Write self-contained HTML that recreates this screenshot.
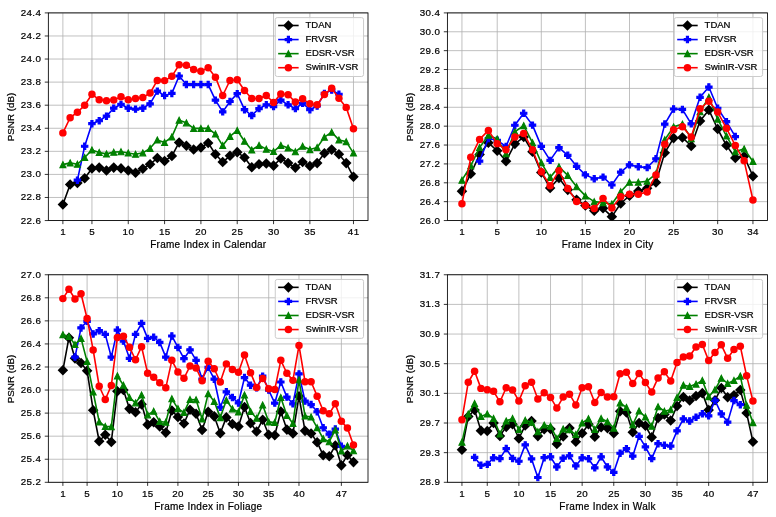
<!DOCTYPE html>
<html><head><meta charset="utf-8"><title>PSNR per frame</title>
<style>
html,body{margin:0;padding:0;background:#fff;}
body{width:776px;height:517px;position:relative;overflow:hidden;font-family:"Liberation Sans",sans-serif;color:#000;}
svg{position:absolute;left:0;top:0;}
section{position:absolute;left:0;top:0;width:776px;height:517px;filter:grayscale(1);}
div{position:absolute;white-space:nowrap;font-size:9.6px;line-height:14px;height:14px;-webkit-text-stroke:0.22px #000;}
.lg{text-align:left;font-size:9.5px;}
.xt{width:40px;text-align:center;font-size:9.8px;letter-spacing:0.35px;text-indent:0.35px;}
.yt{width:40px;text-align:right;font-size:9.8px;letter-spacing:0.35px;margin-left:0.35px;}
.xl{width:200px;text-align:center;font-size:10px;letter-spacing:0.27px;text-indent:0.27px;}
.yl{width:100px;text-align:center;font-size:9.8px;transform:rotate(-90deg);transform-origin:50% 50%;}
</style></head><body>
<svg width="776" height="517" viewBox="0 0 776 517">
<path d="M62.88 12.9V220.55M91.94 12.9V220.55M128.26 12.9V220.55M164.59 12.9V220.55M200.91 12.9V220.55M237.23 12.9V220.55M273.56 12.9V220.55M309.88 12.9V220.55M353.47 12.9V220.55M48.35 220.55H368M48.35 197.48H368M48.35 174.41H368M48.35 151.33H368M48.35 128.26H368M48.35 105.19H368M48.35 82.12H368M48.35 59.04H368M48.35 35.97H368M48.35 12.9H368" stroke="#b0b0b0" stroke-width="0.8" fill="none"/>
<clipPath id="c48_12"><rect x="48.35" y="12.9" width="319.65" height="207.65"/></clipPath>
<g clip-path="url(#c48_12)">
<path d="M62.88 204.51L70.14 184.44L77.41 183.06L84.67 178.21L91.94 168.41L99.2 167.6L106.47 170.48L113.73 167.6L121 168.41L128.26 170.48L135.53 172.68L142.79 168.75L150.06 164.25L157.32 158.02L164.59 160.91L171.85 156.06L179.12 142.45L186.38 145.8L193.65 149.49L200.91 147.53L208.17 142.91L215.44 154.22L222.7 162.06L229.97 155.83L237.23 152.14L244.5 157.56L251.76 167.25L259.03 164.25L266.29 163.45L273.56 165.64L280.82 158.49L288.09 163.1L295.35 167.6L302.62 162.06L309.88 165.98L317.15 163.1L324.41 153.29L331.68 149.6L338.94 154.22L346.21 163.1L353.47 176.83" stroke="#000000" stroke-width="1.6" fill="none" stroke-linejoin="round"/>
<path d="M62.88 199.23L68.16 204.51L62.88 209.8L57.6 204.51Z" fill="#000000"/><path d="M70.14 179.16L75.43 184.44L70.14 189.72L64.86 184.44Z" fill="#000000"/><path d="M77.41 177.78L82.69 183.06L77.41 188.34L72.13 183.06Z" fill="#000000"/><path d="M84.67 172.93L89.96 178.21L84.67 183.49L79.39 178.21Z" fill="#000000"/><path d="M91.94 163.12L97.22 168.41L91.94 173.69L86.66 168.41Z" fill="#000000"/><path d="M99.2 162.32L104.49 167.6L99.2 172.88L93.92 167.6Z" fill="#000000"/><path d="M106.47 165.2L111.75 170.48L106.47 175.77L101.19 170.48Z" fill="#000000"/><path d="M113.73 162.32L119.01 167.6L113.73 172.88L108.45 167.6Z" fill="#000000"/><path d="M121 163.12L126.28 168.41L121 173.69L115.72 168.41Z" fill="#000000"/><path d="M128.26 165.2L133.54 170.48L128.26 175.77L122.98 170.48Z" fill="#000000"/><path d="M135.53 167.39L140.81 172.68L135.53 177.96L130.25 172.68Z" fill="#000000"/><path d="M142.79 163.47L148.07 168.75L142.79 174.03L137.51 168.75Z" fill="#000000"/><path d="M150.06 158.97L155.34 164.25L150.06 169.54L144.77 164.25Z" fill="#000000"/><path d="M157.32 152.74L162.6 158.02L157.32 163.31L152.04 158.02Z" fill="#000000"/><path d="M164.59 155.63L169.87 160.91L164.59 166.19L159.3 160.91Z" fill="#000000"/><path d="M171.85 150.78L177.13 156.06L171.85 161.35L166.57 156.06Z" fill="#000000"/><path d="M179.12 137.17L184.4 142.45L179.12 147.73L173.83 142.45Z" fill="#000000"/><path d="M186.38 140.51L191.66 145.8L186.38 151.08L181.1 145.8Z" fill="#000000"/><path d="M193.65 144.21L198.93 149.49L193.65 154.77L188.36 149.49Z" fill="#000000"/><path d="M200.91 142.24L206.19 147.53L200.91 152.81L195.63 147.53Z" fill="#000000"/><path d="M208.17 137.63L213.46 142.91L208.17 148.19L202.89 142.91Z" fill="#000000"/><path d="M215.44 148.94L220.72 154.22L215.44 159.5L210.16 154.22Z" fill="#000000"/><path d="M222.7 156.78L227.99 162.06L222.7 167.34L217.42 162.06Z" fill="#000000"/><path d="M229.97 150.55L235.25 155.83L229.97 161.11L224.69 155.83Z" fill="#000000"/><path d="M237.23 146.86L242.52 152.14L237.23 157.42L231.95 152.14Z" fill="#000000"/><path d="M244.5 152.28L249.78 157.56L244.5 162.84L239.22 157.56Z" fill="#000000"/><path d="M251.76 161.97L257.05 167.25L251.76 172.54L246.48 167.25Z" fill="#000000"/><path d="M259.03 158.97L264.31 164.25L259.03 169.54L253.75 164.25Z" fill="#000000"/><path d="M266.29 158.16L271.58 163.45L266.29 168.73L261.01 163.45Z" fill="#000000"/><path d="M273.56 160.36L278.84 165.64L273.56 170.92L268.28 165.64Z" fill="#000000"/><path d="M280.82 153.2L286.1 158.49L280.82 163.77L275.54 158.49Z" fill="#000000"/><path d="M288.09 157.82L293.37 163.1L288.09 168.38L282.81 163.1Z" fill="#000000"/><path d="M295.35 162.32L300.63 167.6L295.35 172.88L290.07 167.6Z" fill="#000000"/><path d="M302.62 156.78L307.9 162.06L302.62 167.34L297.34 162.06Z" fill="#000000"/><path d="M309.88 160.7L315.16 165.98L309.88 171.27L304.6 165.98Z" fill="#000000"/><path d="M317.15 157.82L322.43 163.1L317.15 168.38L311.86 163.1Z" fill="#000000"/><path d="M324.41 148.01L329.69 153.29L324.41 158.58L319.13 153.29Z" fill="#000000"/><path d="M331.68 144.32L336.96 149.6L331.68 154.88L326.39 149.6Z" fill="#000000"/><path d="M338.94 148.94L344.22 154.22L338.94 159.5L333.66 154.22Z" fill="#000000"/><path d="M346.21 157.82L351.49 163.1L346.21 168.38L340.92 163.1Z" fill="#000000"/><path d="M353.47 171.55L358.75 176.83L353.47 182.11L348.19 176.83Z" fill="#000000"/>
<path d="M77.41 180.17L84.67 146.26L91.94 123.65L99.2 120.76L106.47 116.15L113.73 108.19L121 104.38L128.26 108.19L135.53 109.11L142.79 108.19L150.06 103.8L157.32 91.11L164.59 95.5L171.85 93.42L179.12 76L186.38 84.54L193.65 84.54L200.91 84.54L208.17 84.54L215.44 100.11L222.7 111.88L229.97 101.5L237.23 93.65L244.5 109.69L251.76 115.57L259.03 108.53L266.29 104.84L273.56 106.57L280.82 100.11L288.09 104.84L295.35 108.53L302.62 103.23L309.88 109.69L317.15 106L324.41 93.42L331.68 90.08L338.94 94.23" stroke="#0000ff" stroke-width="1.6" fill="none" stroke-linejoin="round"/>
<path d="M76.34 176.97L78.48 176.97L78.48 179.11L80.61 179.11L80.61 181.24L78.48 181.24L78.48 183.37L76.34 183.37L76.34 181.24L74.21 181.24L74.21 179.11L76.34 179.11Z" fill="#0000ff" stroke="#0000ff" stroke-width="1.07" stroke-linejoin="miter"/><path d="M83.61 143.06L85.74 143.06L85.74 145.19L87.87 145.19L87.87 147.32L85.74 147.32L85.74 149.46L83.61 149.46L83.61 147.32L81.47 147.32L81.47 145.19L83.61 145.19Z" fill="#0000ff" stroke="#0000ff" stroke-width="1.07" stroke-linejoin="miter"/><path d="M90.87 120.45L93.01 120.45L93.01 122.58L95.14 122.58L95.14 124.71L93.01 124.71L93.01 126.85L90.87 126.85L90.87 124.71L88.74 124.71L88.74 122.58L90.87 122.58Z" fill="#0000ff" stroke="#0000ff" stroke-width="1.07" stroke-linejoin="miter"/><path d="M98.14 117.56L100.27 117.56L100.27 119.7L102.4 119.7L102.4 121.83L100.27 121.83L100.27 123.96L98.14 123.96L98.14 121.83L96 121.83L96 119.7L98.14 119.7Z" fill="#0000ff" stroke="#0000ff" stroke-width="1.07" stroke-linejoin="miter"/><path d="M105.4 112.95L107.53 112.95L107.53 115.08L109.67 115.08L109.67 117.21L107.53 117.21L107.53 119.35L105.4 119.35L105.4 117.21L103.27 117.21L103.27 115.08L105.4 115.08Z" fill="#0000ff" stroke="#0000ff" stroke-width="1.07" stroke-linejoin="miter"/><path d="M112.67 104.99L114.8 104.99L114.8 107.12L116.93 107.12L116.93 109.25L114.8 109.25L114.8 111.39L112.67 111.39L112.67 109.25L110.53 109.25L110.53 107.12L112.67 107.12Z" fill="#0000ff" stroke="#0000ff" stroke-width="1.07" stroke-linejoin="miter"/><path d="M119.93 101.18L122.06 101.18L122.06 103.31L124.2 103.31L124.2 105.45L122.06 105.45L122.06 107.58L119.93 107.58L119.93 105.45L117.8 105.45L117.8 103.31L119.93 103.31Z" fill="#0000ff" stroke="#0000ff" stroke-width="1.07" stroke-linejoin="miter"/><path d="M127.2 104.99L129.33 104.99L129.33 107.12L131.46 107.12L131.46 109.25L129.33 109.25L129.33 111.39L127.2 111.39L127.2 109.25L125.06 109.25L125.06 107.12L127.2 107.12Z" fill="#0000ff" stroke="#0000ff" stroke-width="1.07" stroke-linejoin="miter"/><path d="M134.46 105.91L136.59 105.91L136.59 108.04L138.73 108.04L138.73 110.18L136.59 110.18L136.59 112.31L134.46 112.31L134.46 110.18L132.33 110.18L132.33 108.04L134.46 108.04Z" fill="#0000ff" stroke="#0000ff" stroke-width="1.07" stroke-linejoin="miter"/><path d="M141.73 104.99L143.86 104.99L143.86 107.12L145.99 107.12L145.99 109.25L143.86 109.25L143.86 111.39L141.73 111.39L141.73 109.25L139.59 109.25L139.59 107.12L141.73 107.12Z" fill="#0000ff" stroke="#0000ff" stroke-width="1.07" stroke-linejoin="miter"/><path d="M148.99 100.6L151.12 100.6L151.12 102.74L153.26 102.74L153.26 104.87L151.12 104.87L151.12 107L148.99 107L148.99 104.87L146.86 104.87L146.86 102.74L148.99 102.74Z" fill="#0000ff" stroke="#0000ff" stroke-width="1.07" stroke-linejoin="miter"/><path d="M156.25 87.91L158.39 87.91L158.39 90.05L160.52 90.05L160.52 92.18L158.39 92.18L158.39 94.31L156.25 94.31L156.25 92.18L154.12 92.18L154.12 90.05L156.25 90.05Z" fill="#0000ff" stroke="#0000ff" stroke-width="1.07" stroke-linejoin="miter"/><path d="M163.52 92.3L165.65 92.3L165.65 94.43L167.79 94.43L167.79 96.57L165.65 96.57L165.65 98.7L163.52 98.7L163.52 96.57L161.39 96.57L161.39 94.43L163.52 94.43Z" fill="#0000ff" stroke="#0000ff" stroke-width="1.07" stroke-linejoin="miter"/><path d="M170.78 90.22L172.92 90.22L172.92 92.36L175.05 92.36L175.05 94.49L172.92 94.49L172.92 96.62L170.78 96.62L170.78 94.49L168.65 94.49L168.65 92.36L170.78 92.36Z" fill="#0000ff" stroke="#0000ff" stroke-width="1.07" stroke-linejoin="miter"/><path d="M178.05 72.8L180.18 72.8L180.18 74.94L182.32 74.94L182.32 77.07L180.18 77.07L180.18 79.2L178.05 79.2L178.05 77.07L175.92 77.07L175.92 74.94L178.05 74.94Z" fill="#0000ff" stroke="#0000ff" stroke-width="1.07" stroke-linejoin="miter"/><path d="M185.31 81.34L187.45 81.34L187.45 83.47L189.58 83.47L189.58 85.61L187.45 85.61L187.45 87.74L185.31 87.74L185.31 85.61L183.18 85.61L183.18 83.47L185.31 83.47Z" fill="#0000ff" stroke="#0000ff" stroke-width="1.07" stroke-linejoin="miter"/><path d="M192.58 81.34L194.71 81.34L194.71 83.47L196.85 83.47L196.85 85.61L194.71 85.61L194.71 87.74L192.58 87.74L192.58 85.61L190.45 85.61L190.45 83.47L192.58 83.47Z" fill="#0000ff" stroke="#0000ff" stroke-width="1.07" stroke-linejoin="miter"/><path d="M199.84 81.34L201.98 81.34L201.98 83.47L204.11 83.47L204.11 85.61L201.98 85.61L201.98 87.74L199.84 87.74L199.84 85.61L197.71 85.61L197.71 83.47L199.84 83.47Z" fill="#0000ff" stroke="#0000ff" stroke-width="1.07" stroke-linejoin="miter"/><path d="M207.11 81.34L209.24 81.34L209.24 83.47L211.37 83.47L211.37 85.61L209.24 85.61L209.24 87.74L207.11 87.74L207.11 85.61L204.97 85.61L204.97 83.47L207.11 83.47Z" fill="#0000ff" stroke="#0000ff" stroke-width="1.07" stroke-linejoin="miter"/><path d="M214.37 96.91L216.51 96.91L216.51 99.05L218.64 99.05L218.64 101.18L216.51 101.18L216.51 103.31L214.37 103.31L214.37 101.18L212.24 101.18L212.24 99.05L214.37 99.05Z" fill="#0000ff" stroke="#0000ff" stroke-width="1.07" stroke-linejoin="miter"/><path d="M221.64 108.68L223.77 108.68L223.77 110.81L225.9 110.81L225.9 112.95L223.77 112.95L223.77 115.08L221.64 115.08L221.64 112.95L219.5 112.95L219.5 110.81L221.64 110.81Z" fill="#0000ff" stroke="#0000ff" stroke-width="1.07" stroke-linejoin="miter"/><path d="M228.9 98.3L231.04 98.3L231.04 100.43L233.17 100.43L233.17 102.56L231.04 102.56L231.04 104.7L228.9 104.7L228.9 102.56L226.77 102.56L226.77 100.43L228.9 100.43Z" fill="#0000ff" stroke="#0000ff" stroke-width="1.07" stroke-linejoin="miter"/><path d="M236.17 90.45L238.3 90.45L238.3 92.59L240.43 92.59L240.43 94.72L238.3 94.72L238.3 96.85L236.17 96.85L236.17 94.72L234.03 94.72L234.03 92.59L236.17 92.59Z" fill="#0000ff" stroke="#0000ff" stroke-width="1.07" stroke-linejoin="miter"/><path d="M243.43 106.49L245.57 106.49L245.57 108.62L247.7 108.62L247.7 110.75L245.57 110.75L245.57 112.89L243.43 112.89L243.43 110.75L241.3 110.75L241.3 108.62L243.43 108.62Z" fill="#0000ff" stroke="#0000ff" stroke-width="1.07" stroke-linejoin="miter"/><path d="M250.7 112.37L252.83 112.37L252.83 114.5L254.96 114.5L254.96 116.64L252.83 116.64L252.83 118.77L250.7 118.77L250.7 116.64L248.56 116.64L248.56 114.5L250.7 114.5Z" fill="#0000ff" stroke="#0000ff" stroke-width="1.07" stroke-linejoin="miter"/><path d="M257.96 105.33L260.1 105.33L260.1 107.47L262.23 107.47L262.23 109.6L260.1 109.6L260.1 111.73L257.96 111.73L257.96 109.6L255.83 109.6L255.83 107.47L257.96 107.47Z" fill="#0000ff" stroke="#0000ff" stroke-width="1.07" stroke-linejoin="miter"/><path d="M265.23 101.64L267.36 101.64L267.36 103.78L269.49 103.78L269.49 105.91L267.36 105.91L267.36 108.04L265.23 108.04L265.23 105.91L263.09 105.91L263.09 103.78L265.23 103.78Z" fill="#0000ff" stroke="#0000ff" stroke-width="1.07" stroke-linejoin="miter"/><path d="M272.49 103.37L274.62 103.37L274.62 105.51L276.76 105.51L276.76 107.64L274.62 107.64L274.62 109.77L272.49 109.77L272.49 107.64L270.36 107.64L270.36 105.51L272.49 105.51Z" fill="#0000ff" stroke="#0000ff" stroke-width="1.07" stroke-linejoin="miter"/><path d="M279.76 96.91L281.89 96.91L281.89 99.05L284.02 99.05L284.02 101.18L281.89 101.18L281.89 103.31L279.76 103.31L279.76 101.18L277.62 101.18L277.62 99.05L279.76 99.05Z" fill="#0000ff" stroke="#0000ff" stroke-width="1.07" stroke-linejoin="miter"/><path d="M287.02 101.64L289.15 101.64L289.15 103.78L291.29 103.78L291.29 105.91L289.15 105.91L289.15 108.04L287.02 108.04L287.02 105.91L284.89 105.91L284.89 103.78L287.02 103.78Z" fill="#0000ff" stroke="#0000ff" stroke-width="1.07" stroke-linejoin="miter"/><path d="M294.29 105.33L296.42 105.33L296.42 107.47L298.55 107.47L298.55 109.6L296.42 109.6L296.42 111.73L294.29 111.73L294.29 109.6L292.15 109.6L292.15 107.47L294.29 107.47Z" fill="#0000ff" stroke="#0000ff" stroke-width="1.07" stroke-linejoin="miter"/><path d="M301.55 100.03L303.68 100.03L303.68 102.16L305.82 102.16L305.82 104.29L303.68 104.29L303.68 106.43L301.55 106.43L301.55 104.29L299.42 104.29L299.42 102.16L301.55 102.16Z" fill="#0000ff" stroke="#0000ff" stroke-width="1.07" stroke-linejoin="miter"/><path d="M308.82 106.49L310.95 106.49L310.95 108.62L313.08 108.62L313.08 110.75L310.95 110.75L310.95 112.89L308.82 112.89L308.82 110.75L306.68 110.75L306.68 108.62L308.82 108.62Z" fill="#0000ff" stroke="#0000ff" stroke-width="1.07" stroke-linejoin="miter"/><path d="M316.08 102.8L318.21 102.8L318.21 104.93L320.35 104.93L320.35 107.06L318.21 107.06L318.21 109.2L316.08 109.2L316.08 107.06L313.95 107.06L313.95 104.93L316.08 104.93Z" fill="#0000ff" stroke="#0000ff" stroke-width="1.07" stroke-linejoin="miter"/><path d="M323.34 90.22L325.48 90.22L325.48 92.36L327.61 92.36L327.61 94.49L325.48 94.49L325.48 96.62L323.34 96.62L323.34 94.49L321.21 94.49L321.21 92.36L323.34 92.36Z" fill="#0000ff" stroke="#0000ff" stroke-width="1.07" stroke-linejoin="miter"/><path d="M330.61 86.88L332.74 86.88L332.74 89.01L334.88 89.01L334.88 91.14L332.74 91.14L332.74 93.28L330.61 93.28L330.61 91.14L328.48 91.14L328.48 89.01L330.61 89.01Z" fill="#0000ff" stroke="#0000ff" stroke-width="1.07" stroke-linejoin="miter"/><path d="M337.87 91.03L340.01 91.03L340.01 93.16L342.14 93.16L342.14 95.3L340.01 95.3L340.01 97.43L337.87 97.43L337.87 95.3L335.74 95.3L335.74 93.16L337.87 93.16Z" fill="#0000ff" stroke="#0000ff" stroke-width="1.07" stroke-linejoin="miter"/>
<path d="M62.88 164.6L70.14 162.87L77.41 164.25L84.67 157.56L91.94 149.95L99.2 152.49L106.47 153.87L113.73 152.14L121 151.68L128.26 153.06L135.53 154.22L142.79 152.83L150.06 148.33L157.32 139.91L164.59 142.45L171.85 136.91L179.12 120.3L186.38 122.84L193.65 128.38L200.91 128.38L208.17 128.38L215.44 134.03L222.7 145.57L229.97 136.34L237.23 130.45L244.5 141.3L251.76 149.95L259.03 145.33L266.29 149.14L273.56 151.56L280.82 145.33L288.09 147.99L295.35 151.68L302.62 146.26L309.88 149.6L317.15 147.53L324.41 137.14L331.68 132.18L338.94 139.91L346.21 141.64L353.47 153.06" stroke="#008000" stroke-width="1.6" fill="none" stroke-linejoin="round"/>
<path d="M62.88 161.59L65.89 167.61L59.87 167.61Z" fill="#008000" stroke="#008000" stroke-width="1.07" stroke-linejoin="miter"/><path d="M70.14 159.86L73.15 165.88L67.14 165.88Z" fill="#008000" stroke="#008000" stroke-width="1.07" stroke-linejoin="miter"/><path d="M77.41 161.25L80.42 167.26L74.4 167.26Z" fill="#008000" stroke="#008000" stroke-width="1.07" stroke-linejoin="miter"/><path d="M84.67 154.55L87.68 160.57L81.67 160.57Z" fill="#008000" stroke="#008000" stroke-width="1.07" stroke-linejoin="miter"/><path d="M91.94 146.94L94.95 152.96L88.93 152.96Z" fill="#008000" stroke="#008000" stroke-width="1.07" stroke-linejoin="miter"/><path d="M99.2 149.48L102.21 155.49L96.2 155.49Z" fill="#008000" stroke="#008000" stroke-width="1.07" stroke-linejoin="miter"/><path d="M106.47 150.86L109.48 156.88L103.46 156.88Z" fill="#008000" stroke="#008000" stroke-width="1.07" stroke-linejoin="miter"/><path d="M113.73 149.13L116.74 155.15L110.72 155.15Z" fill="#008000" stroke="#008000" stroke-width="1.07" stroke-linejoin="miter"/><path d="M121 148.67L124.01 154.69L117.99 154.69Z" fill="#008000" stroke="#008000" stroke-width="1.07" stroke-linejoin="miter"/><path d="M128.26 150.06L131.27 156.07L125.25 156.07Z" fill="#008000" stroke="#008000" stroke-width="1.07" stroke-linejoin="miter"/><path d="M135.53 151.21L138.54 157.23L132.52 157.23Z" fill="#008000" stroke="#008000" stroke-width="1.07" stroke-linejoin="miter"/><path d="M142.79 149.83L145.8 155.84L139.78 155.84Z" fill="#008000" stroke="#008000" stroke-width="1.07" stroke-linejoin="miter"/><path d="M150.06 145.33L153.06 151.34L147.05 151.34Z" fill="#008000" stroke="#008000" stroke-width="1.07" stroke-linejoin="miter"/><path d="M157.32 136.9L160.33 142.92L154.31 142.92Z" fill="#008000" stroke="#008000" stroke-width="1.07" stroke-linejoin="miter"/><path d="M164.59 139.44L167.59 145.46L161.58 145.46Z" fill="#008000" stroke="#008000" stroke-width="1.07" stroke-linejoin="miter"/><path d="M171.85 133.91L174.86 139.92L168.84 139.92Z" fill="#008000" stroke="#008000" stroke-width="1.07" stroke-linejoin="miter"/><path d="M179.12 117.29L182.12 123.31L176.11 123.31Z" fill="#008000" stroke="#008000" stroke-width="1.07" stroke-linejoin="miter"/><path d="M186.38 119.83L189.39 125.85L183.37 125.85Z" fill="#008000" stroke="#008000" stroke-width="1.07" stroke-linejoin="miter"/><path d="M193.65 125.37L196.65 131.38L190.64 131.38Z" fill="#008000" stroke="#008000" stroke-width="1.07" stroke-linejoin="miter"/><path d="M200.91 125.37L203.92 131.38L197.9 131.38Z" fill="#008000" stroke="#008000" stroke-width="1.07" stroke-linejoin="miter"/><path d="M208.17 125.37L211.18 131.38L205.17 131.38Z" fill="#008000" stroke="#008000" stroke-width="1.07" stroke-linejoin="miter"/><path d="M215.44 131.02L218.45 137.04L212.43 137.04Z" fill="#008000" stroke="#008000" stroke-width="1.07" stroke-linejoin="miter"/><path d="M222.7 142.56L225.71 148.57L219.7 148.57Z" fill="#008000" stroke="#008000" stroke-width="1.07" stroke-linejoin="miter"/><path d="M229.97 133.33L232.98 139.34L226.96 139.34Z" fill="#008000" stroke="#008000" stroke-width="1.07" stroke-linejoin="miter"/><path d="M237.23 127.44L240.24 133.46L234.23 133.46Z" fill="#008000" stroke="#008000" stroke-width="1.07" stroke-linejoin="miter"/><path d="M244.5 138.29L247.51 144.3L241.49 144.3Z" fill="#008000" stroke="#008000" stroke-width="1.07" stroke-linejoin="miter"/><path d="M251.76 146.94L254.77 152.96L248.76 152.96Z" fill="#008000" stroke="#008000" stroke-width="1.07" stroke-linejoin="miter"/><path d="M259.03 142.33L262.04 148.34L256.02 148.34Z" fill="#008000" stroke="#008000" stroke-width="1.07" stroke-linejoin="miter"/><path d="M266.29 146.13L269.3 152.15L263.29 152.15Z" fill="#008000" stroke="#008000" stroke-width="1.07" stroke-linejoin="miter"/><path d="M273.56 148.56L276.57 154.57L270.55 154.57Z" fill="#008000" stroke="#008000" stroke-width="1.07" stroke-linejoin="miter"/><path d="M280.82 142.33L283.83 148.34L277.81 148.34Z" fill="#008000" stroke="#008000" stroke-width="1.07" stroke-linejoin="miter"/><path d="M288.09 144.98L291.1 151L285.08 151Z" fill="#008000" stroke="#008000" stroke-width="1.07" stroke-linejoin="miter"/><path d="M295.35 148.67L298.36 154.69L292.34 154.69Z" fill="#008000" stroke="#008000" stroke-width="1.07" stroke-linejoin="miter"/><path d="M302.62 143.25L305.63 149.27L299.61 149.27Z" fill="#008000" stroke="#008000" stroke-width="1.07" stroke-linejoin="miter"/><path d="M309.88 146.59L312.89 152.61L306.87 152.61Z" fill="#008000" stroke="#008000" stroke-width="1.07" stroke-linejoin="miter"/><path d="M317.15 144.52L320.15 150.53L314.14 150.53Z" fill="#008000" stroke="#008000" stroke-width="1.07" stroke-linejoin="miter"/><path d="M324.41 134.14L327.42 140.15L321.4 140.15Z" fill="#008000" stroke="#008000" stroke-width="1.07" stroke-linejoin="miter"/><path d="M331.68 129.18L334.68 135.19L328.67 135.19Z" fill="#008000" stroke="#008000" stroke-width="1.07" stroke-linejoin="miter"/><path d="M338.94 136.9L341.95 142.92L335.93 142.92Z" fill="#008000" stroke="#008000" stroke-width="1.07" stroke-linejoin="miter"/><path d="M346.21 138.64L349.21 144.65L343.2 144.65Z" fill="#008000" stroke="#008000" stroke-width="1.07" stroke-linejoin="miter"/><path d="M353.47 150.06L356.48 156.07L350.46 156.07Z" fill="#008000" stroke="#008000" stroke-width="1.07" stroke-linejoin="miter"/>
<path d="M62.88 132.88L70.14 117.76L77.41 112.23L84.67 105.3L91.94 94.23L99.2 99.77L106.47 100.81L113.73 100.11L121 96.77L128.26 99.77L135.53 98.61L142.79 97.46L150.06 93.08L157.32 80.39L164.59 80.62L171.85 76.35L179.12 64.81L186.38 65.27L193.65 69.43L200.91 71.16L208.17 67.7L215.44 77.16L222.7 95.5L229.97 80.5L237.23 79.69L244.5 90.54L251.76 98.5L259.03 98.5L266.29 95.5L273.56 102.54L280.82 93.88L288.09 94.69L295.35 102.07L302.62 98.84L309.88 103.8L317.15 104.73L324.41 94.58L331.68 88.35L338.94 98.15L346.21 107.38L353.47 128.72" stroke="#ff0000" stroke-width="1.6" fill="none" stroke-linejoin="round"/>
<circle cx="62.88" cy="132.88" r="3.74" fill="#ff0000"/><circle cx="70.14" cy="117.76" r="3.74" fill="#ff0000"/><circle cx="77.41" cy="112.23" r="3.74" fill="#ff0000"/><circle cx="84.67" cy="105.3" r="3.74" fill="#ff0000"/><circle cx="91.94" cy="94.23" r="3.74" fill="#ff0000"/><circle cx="99.2" cy="99.77" r="3.74" fill="#ff0000"/><circle cx="106.47" cy="100.81" r="3.74" fill="#ff0000"/><circle cx="113.73" cy="100.11" r="3.74" fill="#ff0000"/><circle cx="121" cy="96.77" r="3.74" fill="#ff0000"/><circle cx="128.26" cy="99.77" r="3.74" fill="#ff0000"/><circle cx="135.53" cy="98.61" r="3.74" fill="#ff0000"/><circle cx="142.79" cy="97.46" r="3.74" fill="#ff0000"/><circle cx="150.06" cy="93.08" r="3.74" fill="#ff0000"/><circle cx="157.32" cy="80.39" r="3.74" fill="#ff0000"/><circle cx="164.59" cy="80.62" r="3.74" fill="#ff0000"/><circle cx="171.85" cy="76.35" r="3.74" fill="#ff0000"/><circle cx="179.12" cy="64.81" r="3.74" fill="#ff0000"/><circle cx="186.38" cy="65.27" r="3.74" fill="#ff0000"/><circle cx="193.65" cy="69.43" r="3.74" fill="#ff0000"/><circle cx="200.91" cy="71.16" r="3.74" fill="#ff0000"/><circle cx="208.17" cy="67.7" r="3.74" fill="#ff0000"/><circle cx="215.44" cy="77.16" r="3.74" fill="#ff0000"/><circle cx="222.7" cy="95.5" r="3.74" fill="#ff0000"/><circle cx="229.97" cy="80.5" r="3.74" fill="#ff0000"/><circle cx="237.23" cy="79.69" r="3.74" fill="#ff0000"/><circle cx="244.5" cy="90.54" r="3.74" fill="#ff0000"/><circle cx="251.76" cy="98.5" r="3.74" fill="#ff0000"/><circle cx="259.03" cy="98.5" r="3.74" fill="#ff0000"/><circle cx="266.29" cy="95.5" r="3.74" fill="#ff0000"/><circle cx="273.56" cy="102.54" r="3.74" fill="#ff0000"/><circle cx="280.82" cy="93.88" r="3.74" fill="#ff0000"/><circle cx="288.09" cy="94.69" r="3.74" fill="#ff0000"/><circle cx="295.35" cy="102.07" r="3.74" fill="#ff0000"/><circle cx="302.62" cy="98.84" r="3.74" fill="#ff0000"/><circle cx="309.88" cy="103.8" r="3.74" fill="#ff0000"/><circle cx="317.15" cy="104.73" r="3.74" fill="#ff0000"/><circle cx="324.41" cy="94.58" r="3.74" fill="#ff0000"/><circle cx="331.68" cy="88.35" r="3.74" fill="#ff0000"/><circle cx="338.94" cy="98.15" r="3.74" fill="#ff0000"/><circle cx="346.21" cy="107.38" r="3.74" fill="#ff0000"/><circle cx="353.47" cy="128.72" r="3.74" fill="#ff0000"/>
</g>
<path d="M62.88 220.55v3.6M91.94 220.55v3.6M128.26 220.55v3.6M164.59 220.55v3.6M200.91 220.55v3.6M237.23 220.55v3.6M273.56 220.55v3.6M309.88 220.55v3.6M353.47 220.55v3.6M48.35 220.55h-3.6M48.35 197.48h-3.6M48.35 174.41h-3.6M48.35 151.33h-3.6M48.35 128.26h-3.6M48.35 105.19h-3.6M48.35 82.12h-3.6M48.35 59.04h-3.6M48.35 35.97h-3.6M48.35 12.9h-3.6" stroke="#000" stroke-width="0.8" fill="none"/>
<rect x="48.35" y="12.9" width="319.65" height="207.65" fill="none" stroke="#000" stroke-width="0.85"/>
<rect x="275.25" y="17.6" width="88.3" height="58.9" rx="2" ry="2" fill="#fff" fill-opacity="0.8" stroke="#cccccc" stroke-width="1"/>
<path d="M278.15 25.5H298.65" stroke="#000000" stroke-width="1.6"/>
<path d="M288.4 20.22L293.68 25.5L288.4 30.78L283.12 25.5Z" fill="#000000"/>
<path d="M278.15 39.57H298.65" stroke="#0000ff" stroke-width="1.6"/>
<path d="M287.33 36.37L289.47 36.37L289.47 38.5L291.6 38.5L291.6 40.64L289.47 40.64L289.47 42.77L287.33 42.77L287.33 40.64L285.2 40.64L285.2 38.5L287.33 38.5Z" fill="#0000ff" stroke="#0000ff" stroke-width="1.07" stroke-linejoin="miter"/>
<path d="M278.15 53.64H298.65" stroke="#008000" stroke-width="1.6"/>
<path d="M288.4 50.63L291.41 56.65L285.39 56.65Z" fill="#008000" stroke="#008000" stroke-width="1.07" stroke-linejoin="miter"/>
<path d="M278.15 67.71H298.65" stroke="#ff0000" stroke-width="1.6"/>
<circle cx="288.4" cy="67.71" r="3.74" fill="#ff0000"/>
<path d="M461.95 12.9V220.55M497.22 12.9V220.55M541.31 12.9V220.55M585.4 12.9V220.55M629.5 12.9V220.55M673.59 12.9V220.55M717.68 12.9V220.55M752.95 12.9V220.55M447.4 220.55H767.5M447.4 201.67H767.5M447.4 182.8H767.5M447.4 163.92H767.5M447.4 145.04H767.5M447.4 126.16H767.5M447.4 107.29H767.5M447.4 88.41H767.5M447.4 69.53H767.5M447.4 50.65H767.5M447.4 31.78H767.5M447.4 12.9H767.5" stroke="#b0b0b0" stroke-width="0.8" fill="none"/>
<clipPath id="c447_12"><rect x="447.4" y="12.9" width="320.1" height="207.65"/></clipPath>
<g clip-path="url(#c447_12)">
<path d="M461.95 191.15L470.77 173.83L479.59 154.48L488.4 142.73L497.22 150.8L506.04 161.13L514.86 143.86L523.68 137.02L532.5 151.84L541.31 172.41L550.13 187.99L558.95 177.93L567.77 189.87L576.59 199.69L585.4 205.45L594.22 210.78L603.04 208.33L611.86 216.63L620.68 203.51L629.5 195.77L638.31 191.01L647.13 188.22L655.95 182.42L664.77 152.78L673.59 138.1L682.4 137.54L691.22 145.98L700.04 120.97L708.86 109.88L717.68 129L726.5 145.51L735.31 157.88L744.13 156.37L752.95 176.24" stroke="#000000" stroke-width="1.6" fill="none" stroke-linejoin="round"/>
<path d="M461.95 185.87L467.23 191.15L461.95 196.43L456.67 191.15Z" fill="#000000"/><path d="M470.77 168.55L476.05 173.83L470.77 179.11L465.49 173.83Z" fill="#000000"/><path d="M479.59 149.2L484.87 154.48L479.59 159.76L474.3 154.48Z" fill="#000000"/><path d="M488.4 137.45L493.69 142.73L488.4 148.01L483.12 142.73Z" fill="#000000"/><path d="M497.22 145.52L502.5 150.8L497.22 156.08L491.94 150.8Z" fill="#000000"/><path d="M506.04 155.85L511.32 161.13L506.04 166.42L500.76 161.13Z" fill="#000000"/><path d="M514.86 138.58L520.14 143.86L514.86 149.14L509.58 143.86Z" fill="#000000"/><path d="M523.68 131.74L528.96 137.02L523.68 142.3L518.4 137.02Z" fill="#000000"/><path d="M532.5 146.55L537.78 151.84L532.5 157.12L527.21 151.84Z" fill="#000000"/><path d="M541.31 167.13L546.6 172.41L541.31 177.69L536.03 172.41Z" fill="#000000"/><path d="M550.13 182.7L555.41 187.99L550.13 193.27L544.85 187.99Z" fill="#000000"/><path d="M558.95 172.65L564.23 177.93L558.95 183.22L553.67 177.93Z" fill="#000000"/><path d="M567.77 184.59L573.05 189.87L567.77 195.16L562.49 189.87Z" fill="#000000"/><path d="M576.59 194.41L581.87 199.69L576.59 204.97L571.3 199.69Z" fill="#000000"/><path d="M585.4 200.17L590.69 205.45L585.4 210.73L580.12 205.45Z" fill="#000000"/><path d="M594.22 205.5L599.5 210.78L594.22 216.06L588.94 210.78Z" fill="#000000"/><path d="M603.04 203.04L608.32 208.33L603.04 213.61L597.76 208.33Z" fill="#000000"/><path d="M611.86 211.35L617.14 216.63L611.86 221.92L606.58 216.63Z" fill="#000000"/><path d="M620.68 198.23L625.96 203.51L620.68 208.8L615.4 203.51Z" fill="#000000"/><path d="M629.5 190.49L634.78 195.77L629.5 201.06L624.21 195.77Z" fill="#000000"/><path d="M638.31 185.73L643.6 191.01L638.31 196.29L633.03 191.01Z" fill="#000000"/><path d="M647.13 182.94L652.41 188.22L647.13 193.5L641.85 188.22Z" fill="#000000"/><path d="M655.95 177.14L661.23 182.42L655.95 187.7L650.67 182.42Z" fill="#000000"/><path d="M664.77 147.5L670.05 152.78L664.77 158.06L659.49 152.78Z" fill="#000000"/><path d="M673.59 132.82L678.87 138.1L673.59 143.39L668.3 138.1Z" fill="#000000"/><path d="M682.4 132.26L687.69 137.54L682.4 142.82L677.12 137.54Z" fill="#000000"/><path d="M691.22 140.7L696.5 145.98L691.22 151.27L685.94 145.98Z" fill="#000000"/><path d="M700.04 115.69L705.32 120.97L700.04 126.25L694.76 120.97Z" fill="#000000"/><path d="M708.86 104.6L714.14 109.88L708.86 115.16L703.58 109.88Z" fill="#000000"/><path d="M717.68 123.71L722.96 129L717.68 134.28L712.4 129Z" fill="#000000"/><path d="M726.5 140.23L731.78 145.51L726.5 150.79L721.21 145.51Z" fill="#000000"/><path d="M735.31 152.6L740.6 157.88L735.31 163.16L730.03 157.88Z" fill="#000000"/><path d="M744.13 151.09L749.41 156.37L744.13 161.65L738.85 156.37Z" fill="#000000"/><path d="M752.95 170.95L758.23 176.24L752.95 181.52L747.67 176.24Z" fill="#000000"/>
<path d="M479.59 161.09L488.4 138.48L497.22 140.32L506.04 146.46L514.86 125.27L523.68 113.23L532.5 125.13L541.31 146.32L550.13 160.38L558.95 147.64L567.77 155.28L576.59 166.28L585.4 174.87L594.22 178.78L603.04 177.13L611.86 185.01L620.68 172.13L629.5 164.86L638.31 166.75L647.13 167.6L655.95 158.73L664.77 124.09L673.59 108.99L682.4 109.41L691.22 123.8L700.04 97.33L708.86 87.04L717.68 108.23L726.5 121.68L735.31 136.55" stroke="#0000ff" stroke-width="1.6" fill="none" stroke-linejoin="round"/>
<path d="M478.52 157.89L480.65 157.89L480.65 160.02L482.79 160.02L482.79 162.15L480.65 162.15L480.65 164.29L478.52 164.29L478.52 162.15L476.39 162.15L476.39 160.02L478.52 160.02Z" fill="#0000ff" stroke="#0000ff" stroke-width="1.07" stroke-linejoin="miter"/><path d="M487.34 135.28L489.47 135.28L489.47 137.41L491.6 137.41L491.6 139.55L489.47 139.55L489.47 141.68L487.34 141.68L487.34 139.55L485.2 139.55L485.2 137.41L487.34 137.41Z" fill="#0000ff" stroke="#0000ff" stroke-width="1.07" stroke-linejoin="miter"/><path d="M496.16 137.12L498.29 137.12L498.29 139.25L500.42 139.25L500.42 141.39L498.29 141.39L498.29 143.52L496.16 143.52L496.16 141.39L494.02 141.39L494.02 139.25L496.16 139.25Z" fill="#0000ff" stroke="#0000ff" stroke-width="1.07" stroke-linejoin="miter"/><path d="M504.97 143.26L507.11 143.26L507.11 145.39L509.24 145.39L509.24 147.52L507.11 147.52L507.11 149.66L504.97 149.66L504.97 147.52L502.84 147.52L502.84 145.39L504.97 145.39Z" fill="#0000ff" stroke="#0000ff" stroke-width="1.07" stroke-linejoin="miter"/><path d="M513.79 122.07L515.93 122.07L515.93 124.2L518.06 124.2L518.06 126.33L515.93 126.33L515.93 128.47L513.79 128.47L513.79 126.33L511.66 126.33L511.66 124.2L513.79 124.2Z" fill="#0000ff" stroke="#0000ff" stroke-width="1.07" stroke-linejoin="miter"/><path d="M522.61 110.03L524.74 110.03L524.74 112.17L526.88 112.17L526.88 114.3L524.74 114.3L524.74 116.43L522.61 116.43L522.61 114.3L520.48 114.3L520.48 112.17L522.61 112.17Z" fill="#0000ff" stroke="#0000ff" stroke-width="1.07" stroke-linejoin="miter"/><path d="M531.43 121.93L533.56 121.93L533.56 124.06L535.7 124.06L535.7 126.19L533.56 126.19L533.56 128.33L531.43 128.33L531.43 126.19L529.3 126.19L529.3 124.06L531.43 124.06Z" fill="#0000ff" stroke="#0000ff" stroke-width="1.07" stroke-linejoin="miter"/><path d="M540.25 143.12L542.38 143.12L542.38 145.25L544.51 145.25L544.51 147.38L542.38 147.38L542.38 149.52L540.25 149.52L540.25 147.38L538.11 147.38L538.11 145.25L540.25 145.25Z" fill="#0000ff" stroke="#0000ff" stroke-width="1.07" stroke-linejoin="miter"/><path d="M549.07 157.18L551.2 157.18L551.2 159.31L553.33 159.31L553.33 161.45L551.2 161.45L551.2 163.58L549.07 163.58L549.07 161.45L546.93 161.45L546.93 159.31L549.07 159.31Z" fill="#0000ff" stroke="#0000ff" stroke-width="1.07" stroke-linejoin="miter"/><path d="M557.88 144.44L560.02 144.44L560.02 146.57L562.15 146.57L562.15 148.7L560.02 148.7L560.02 150.84L557.88 150.84L557.88 148.7L555.75 148.7L555.75 146.57L557.88 146.57Z" fill="#0000ff" stroke="#0000ff" stroke-width="1.07" stroke-linejoin="miter"/><path d="M566.7 152.08L568.83 152.08L568.83 154.22L570.97 154.22L570.97 156.35L568.83 156.35L568.83 158.48L566.7 158.48L566.7 156.35L564.57 156.35L564.57 154.22L566.7 154.22Z" fill="#0000ff" stroke="#0000ff" stroke-width="1.07" stroke-linejoin="miter"/><path d="M575.52 163.08L577.65 163.08L577.65 165.21L579.79 165.21L579.79 167.34L577.65 167.34L577.65 169.48L575.52 169.48L575.52 167.34L573.39 167.34L573.39 165.21L575.52 165.21Z" fill="#0000ff" stroke="#0000ff" stroke-width="1.07" stroke-linejoin="miter"/><path d="M584.34 171.67L586.47 171.67L586.47 173.8L588.6 173.8L588.6 175.93L586.47 175.93L586.47 178.07L584.34 178.07L584.34 175.93L582.2 175.93L582.2 173.8L584.34 173.8Z" fill="#0000ff" stroke="#0000ff" stroke-width="1.07" stroke-linejoin="miter"/><path d="M593.16 175.58L595.29 175.58L595.29 177.72L597.42 177.72L597.42 179.85L595.29 179.85L595.29 181.98L593.16 181.98L593.16 179.85L591.02 179.85L591.02 177.72L593.16 177.72Z" fill="#0000ff" stroke="#0000ff" stroke-width="1.07" stroke-linejoin="miter"/><path d="M601.97 173.93L604.11 173.93L604.11 176.07L606.24 176.07L606.24 178.2L604.11 178.2L604.11 180.33L601.97 180.33L601.97 178.2L599.84 178.2L599.84 176.07L601.97 176.07Z" fill="#0000ff" stroke="#0000ff" stroke-width="1.07" stroke-linejoin="miter"/><path d="M610.79 181.81L612.93 181.81L612.93 183.95L615.06 183.95L615.06 186.08L612.93 186.08L612.93 188.21L610.79 188.21L610.79 186.08L608.66 186.08L608.66 183.95L610.79 183.95Z" fill="#0000ff" stroke="#0000ff" stroke-width="1.07" stroke-linejoin="miter"/><path d="M619.61 168.93L621.74 168.93L621.74 171.06L623.88 171.06L623.88 173.2L621.74 173.2L621.74 175.33L619.61 175.33L619.61 173.2L617.48 173.2L617.48 171.06L619.61 171.06Z" fill="#0000ff" stroke="#0000ff" stroke-width="1.07" stroke-linejoin="miter"/><path d="M628.43 161.66L630.56 161.66L630.56 163.8L632.7 163.8L632.7 165.93L630.56 165.93L630.56 168.06L628.43 168.06L628.43 165.93L626.3 165.93L626.3 163.8L628.43 163.8Z" fill="#0000ff" stroke="#0000ff" stroke-width="1.07" stroke-linejoin="miter"/><path d="M637.25 163.55L639.38 163.55L639.38 165.68L641.51 165.68L641.51 167.82L639.38 167.82L639.38 169.95L637.25 169.95L637.25 167.82L635.11 167.82L635.11 165.68L637.25 165.68Z" fill="#0000ff" stroke="#0000ff" stroke-width="1.07" stroke-linejoin="miter"/><path d="M646.07 164.4L648.2 164.4L648.2 166.53L650.33 166.53L650.33 168.67L648.2 168.67L648.2 170.8L646.07 170.8L646.07 168.67L643.93 168.67L643.93 166.53L646.07 166.53Z" fill="#0000ff" stroke="#0000ff" stroke-width="1.07" stroke-linejoin="miter"/><path d="M654.88 155.53L657.02 155.53L657.02 157.66L659.15 157.66L659.15 159.79L657.02 159.79L657.02 161.93L654.88 161.93L654.88 159.79L652.75 159.79L652.75 157.66L654.88 157.66Z" fill="#0000ff" stroke="#0000ff" stroke-width="1.07" stroke-linejoin="miter"/><path d="M663.7 120.89L665.83 120.89L665.83 123.02L667.97 123.02L667.97 125.15L665.83 125.15L665.83 127.29L663.7 127.29L663.7 125.15L661.57 125.15L661.57 123.02L663.7 123.02Z" fill="#0000ff" stroke="#0000ff" stroke-width="1.07" stroke-linejoin="miter"/><path d="M672.52 105.79L674.65 105.79L674.65 107.92L676.79 107.92L676.79 110.05L674.65 110.05L674.65 112.19L672.52 112.19L672.52 110.05L670.39 110.05L670.39 107.92L672.52 107.92Z" fill="#0000ff" stroke="#0000ff" stroke-width="1.07" stroke-linejoin="miter"/><path d="M681.34 106.21L683.47 106.21L683.47 108.34L685.6 108.34L685.6 110.48L683.47 110.48L683.47 112.61L681.34 112.61L681.34 110.48L679.2 110.48L679.2 108.34L681.34 108.34Z" fill="#0000ff" stroke="#0000ff" stroke-width="1.07" stroke-linejoin="miter"/><path d="M690.16 120.6L692.29 120.6L692.29 122.74L694.42 122.74L694.42 124.87L692.29 124.87L692.29 127L690.16 127L690.16 124.87L688.02 124.87L688.02 122.74L690.16 122.74Z" fill="#0000ff" stroke="#0000ff" stroke-width="1.07" stroke-linejoin="miter"/><path d="M698.97 94.13L701.11 94.13L701.11 96.26L703.24 96.26L703.24 98.4L701.11 98.4L701.11 100.53L698.97 100.53L698.97 98.4L696.84 98.4L696.84 96.26L698.97 96.26Z" fill="#0000ff" stroke="#0000ff" stroke-width="1.07" stroke-linejoin="miter"/><path d="M707.79 83.84L709.93 83.84L709.93 85.97L712.06 85.97L712.06 88.11L709.93 88.11L709.93 90.24L707.79 90.24L707.79 88.11L705.66 88.11L705.66 85.97L707.79 85.97Z" fill="#0000ff" stroke="#0000ff" stroke-width="1.07" stroke-linejoin="miter"/><path d="M716.61 105.03L718.74 105.03L718.74 107.16L720.88 107.16L720.88 109.3L718.74 109.3L718.74 111.43L716.61 111.43L716.61 109.3L714.48 109.3L714.48 107.16L716.61 107.16Z" fill="#0000ff" stroke="#0000ff" stroke-width="1.07" stroke-linejoin="miter"/><path d="M725.43 118.48L727.56 118.48L727.56 120.61L729.7 120.61L729.7 122.75L727.56 122.75L727.56 124.88L725.43 124.88L725.43 122.75L723.3 122.75L723.3 120.61L725.43 120.61Z" fill="#0000ff" stroke="#0000ff" stroke-width="1.07" stroke-linejoin="miter"/><path d="M734.25 133.35L736.38 133.35L736.38 135.48L738.51 135.48L738.51 137.61L736.38 137.61L736.38 139.75L734.25 139.75L734.25 137.61L732.11 137.61L732.11 135.48L734.25 135.48Z" fill="#0000ff" stroke="#0000ff" stroke-width="1.07" stroke-linejoin="miter"/>
<path d="M461.95 180.15L470.77 165.81L479.59 147.45L488.4 135.13L497.22 139.05L506.04 153.63L514.86 131.78L523.68 125.6L532.5 142.68L541.31 162.79L550.13 177.37L558.95 166.7L567.77 175.34L576.59 186.67L585.4 195.92L594.22 201.67L603.04 202.62L611.86 204.08L620.68 191.76L629.5 182.23L638.31 182.32L647.13 181.19L655.95 173.83L664.77 139.76L673.59 126.87L682.4 124.09L691.22 138.67L700.04 111.77L708.86 97.33L717.68 119.08L726.5 136.03L735.31 151.65L744.13 148.86L752.95 161.56" stroke="#008000" stroke-width="1.6" fill="none" stroke-linejoin="round"/>
<path d="M461.95 177.14L464.96 183.16L458.94 183.16Z" fill="#008000" stroke="#008000" stroke-width="1.07" stroke-linejoin="miter"/><path d="M470.77 162.8L473.78 168.81L467.76 168.81Z" fill="#008000" stroke="#008000" stroke-width="1.07" stroke-linejoin="miter"/><path d="M479.59 144.44L482.59 150.46L476.58 150.46Z" fill="#008000" stroke="#008000" stroke-width="1.07" stroke-linejoin="miter"/><path d="M488.4 132.12L491.41 138.14L485.4 138.14Z" fill="#008000" stroke="#008000" stroke-width="1.07" stroke-linejoin="miter"/><path d="M497.22 136.04L500.23 142.06L494.21 142.06Z" fill="#008000" stroke="#008000" stroke-width="1.07" stroke-linejoin="miter"/><path d="M506.04 150.62L509.05 156.64L503.03 156.64Z" fill="#008000" stroke="#008000" stroke-width="1.07" stroke-linejoin="miter"/><path d="M514.86 128.77L517.87 134.79L511.85 134.79Z" fill="#008000" stroke="#008000" stroke-width="1.07" stroke-linejoin="miter"/><path d="M523.68 122.59L526.69 128.61L520.67 128.61Z" fill="#008000" stroke="#008000" stroke-width="1.07" stroke-linejoin="miter"/><path d="M532.5 139.67L535.5 145.69L529.49 145.69Z" fill="#008000" stroke="#008000" stroke-width="1.07" stroke-linejoin="miter"/><path d="M541.31 159.78L544.32 165.79L538.31 165.79Z" fill="#008000" stroke="#008000" stroke-width="1.07" stroke-linejoin="miter"/><path d="M550.13 174.36L553.14 180.38L547.12 180.38Z" fill="#008000" stroke="#008000" stroke-width="1.07" stroke-linejoin="miter"/><path d="M558.95 163.69L561.96 169.71L555.94 169.71Z" fill="#008000" stroke="#008000" stroke-width="1.07" stroke-linejoin="miter"/><path d="M567.77 172.33L570.78 178.35L564.76 178.35Z" fill="#008000" stroke="#008000" stroke-width="1.07" stroke-linejoin="miter"/><path d="M576.59 183.66L579.59 189.67L573.58 189.67Z" fill="#008000" stroke="#008000" stroke-width="1.07" stroke-linejoin="miter"/><path d="M585.4 192.91L588.41 198.92L582.4 198.92Z" fill="#008000" stroke="#008000" stroke-width="1.07" stroke-linejoin="miter"/><path d="M594.22 198.66L597.23 204.68L591.21 204.68Z" fill="#008000" stroke="#008000" stroke-width="1.07" stroke-linejoin="miter"/><path d="M603.04 199.61L606.05 205.62L600.03 205.62Z" fill="#008000" stroke="#008000" stroke-width="1.07" stroke-linejoin="miter"/><path d="M611.86 201.07L614.87 207.09L608.85 207.09Z" fill="#008000" stroke="#008000" stroke-width="1.07" stroke-linejoin="miter"/><path d="M620.68 188.75L623.69 194.77L617.67 194.77Z" fill="#008000" stroke="#008000" stroke-width="1.07" stroke-linejoin="miter"/><path d="M629.5 179.22L632.5 185.24L626.49 185.24Z" fill="#008000" stroke="#008000" stroke-width="1.07" stroke-linejoin="miter"/><path d="M638.31 179.32L641.32 185.33L635.31 185.33Z" fill="#008000" stroke="#008000" stroke-width="1.07" stroke-linejoin="miter"/><path d="M647.13 178.18L650.14 184.2L644.12 184.2Z" fill="#008000" stroke="#008000" stroke-width="1.07" stroke-linejoin="miter"/><path d="M655.95 170.82L658.96 176.84L652.94 176.84Z" fill="#008000" stroke="#008000" stroke-width="1.07" stroke-linejoin="miter"/><path d="M664.77 136.75L667.78 142.76L661.76 142.76Z" fill="#008000" stroke="#008000" stroke-width="1.07" stroke-linejoin="miter"/><path d="M673.59 123.86L676.59 129.88L670.58 129.88Z" fill="#008000" stroke="#008000" stroke-width="1.07" stroke-linejoin="miter"/><path d="M682.4 121.08L685.41 127.1L679.4 127.1Z" fill="#008000" stroke="#008000" stroke-width="1.07" stroke-linejoin="miter"/><path d="M691.22 135.66L694.23 141.68L688.21 141.68Z" fill="#008000" stroke="#008000" stroke-width="1.07" stroke-linejoin="miter"/><path d="M700.04 108.76L703.05 114.78L697.03 114.78Z" fill="#008000" stroke="#008000" stroke-width="1.07" stroke-linejoin="miter"/><path d="M708.86 94.32L711.87 100.34L705.85 100.34Z" fill="#008000" stroke="#008000" stroke-width="1.07" stroke-linejoin="miter"/><path d="M717.68 116.08L720.69 122.09L714.67 122.09Z" fill="#008000" stroke="#008000" stroke-width="1.07" stroke-linejoin="miter"/><path d="M726.5 133.02L729.5 139.04L723.49 139.04Z" fill="#008000" stroke="#008000" stroke-width="1.07" stroke-linejoin="miter"/><path d="M735.31 148.64L738.32 154.66L732.31 154.66Z" fill="#008000" stroke="#008000" stroke-width="1.07" stroke-linejoin="miter"/><path d="M744.13 145.86L747.14 151.87L741.12 151.87Z" fill="#008000" stroke="#008000" stroke-width="1.07" stroke-linejoin="miter"/><path d="M752.95 158.55L755.96 164.57L749.94 164.57Z" fill="#008000" stroke="#008000" stroke-width="1.07" stroke-linejoin="miter"/>
<path d="M461.95 203.7L470.77 157.31L479.59 139.38L488.4 130.41L497.22 143.63L506.04 149.76L514.86 137.02L523.68 133.48L532.5 149.76L541.31 171.75L550.13 185.77L558.95 170.62L567.77 188.55L576.59 201.39L585.4 205.45L594.22 208.52L603.04 198.37L611.86 208L620.68 196.81L629.5 194.22L638.31 194.36L647.13 192L655.95 175.1L664.77 144.24L673.59 129.7L682.4 126.64L691.22 137.02L700.04 108.7L708.86 101.25L717.68 112.01L726.5 128.29L735.31 145.51L744.13 160.85L752.95 199.97" stroke="#ff0000" stroke-width="1.6" fill="none" stroke-linejoin="round"/>
<circle cx="461.95" cy="203.7" r="3.74" fill="#ff0000"/><circle cx="470.77" cy="157.31" r="3.74" fill="#ff0000"/><circle cx="479.59" cy="139.38" r="3.74" fill="#ff0000"/><circle cx="488.4" cy="130.41" r="3.74" fill="#ff0000"/><circle cx="497.22" cy="143.63" r="3.74" fill="#ff0000"/><circle cx="506.04" cy="149.76" r="3.74" fill="#ff0000"/><circle cx="514.86" cy="137.02" r="3.74" fill="#ff0000"/><circle cx="523.68" cy="133.48" r="3.74" fill="#ff0000"/><circle cx="532.5" cy="149.76" r="3.74" fill="#ff0000"/><circle cx="541.31" cy="171.75" r="3.74" fill="#ff0000"/><circle cx="550.13" cy="185.77" r="3.74" fill="#ff0000"/><circle cx="558.95" cy="170.62" r="3.74" fill="#ff0000"/><circle cx="567.77" cy="188.55" r="3.74" fill="#ff0000"/><circle cx="576.59" cy="201.39" r="3.74" fill="#ff0000"/><circle cx="585.4" cy="205.45" r="3.74" fill="#ff0000"/><circle cx="594.22" cy="208.52" r="3.74" fill="#ff0000"/><circle cx="603.04" cy="198.37" r="3.74" fill="#ff0000"/><circle cx="611.86" cy="208" r="3.74" fill="#ff0000"/><circle cx="620.68" cy="196.81" r="3.74" fill="#ff0000"/><circle cx="629.5" cy="194.22" r="3.74" fill="#ff0000"/><circle cx="638.31" cy="194.36" r="3.74" fill="#ff0000"/><circle cx="647.13" cy="192" r="3.74" fill="#ff0000"/><circle cx="655.95" cy="175.1" r="3.74" fill="#ff0000"/><circle cx="664.77" cy="144.24" r="3.74" fill="#ff0000"/><circle cx="673.59" cy="129.7" r="3.74" fill="#ff0000"/><circle cx="682.4" cy="126.64" r="3.74" fill="#ff0000"/><circle cx="691.22" cy="137.02" r="3.74" fill="#ff0000"/><circle cx="700.04" cy="108.7" r="3.74" fill="#ff0000"/><circle cx="708.86" cy="101.25" r="3.74" fill="#ff0000"/><circle cx="717.68" cy="112.01" r="3.74" fill="#ff0000"/><circle cx="726.5" cy="128.29" r="3.74" fill="#ff0000"/><circle cx="735.31" cy="145.51" r="3.74" fill="#ff0000"/><circle cx="744.13" cy="160.85" r="3.74" fill="#ff0000"/><circle cx="752.95" cy="199.97" r="3.74" fill="#ff0000"/>
</g>
<path d="M461.95 220.55v3.6M497.22 220.55v3.6M541.31 220.55v3.6M585.4 220.55v3.6M629.5 220.55v3.6M673.59 220.55v3.6M717.68 220.55v3.6M752.95 220.55v3.6M447.4 220.55h-3.6M447.4 201.67h-3.6M447.4 182.8h-3.6M447.4 163.92h-3.6M447.4 145.04h-3.6M447.4 126.16h-3.6M447.4 107.29h-3.6M447.4 88.41h-3.6M447.4 69.53h-3.6M447.4 50.65h-3.6M447.4 31.78h-3.6M447.4 12.9h-3.6" stroke="#000" stroke-width="0.8" fill="none"/>
<rect x="447.4" y="12.9" width="320.1" height="207.65" fill="none" stroke="#000" stroke-width="0.85"/>
<rect x="674.3" y="17.6" width="88.3" height="58.9" rx="2" ry="2" fill="#fff" fill-opacity="0.8" stroke="#cccccc" stroke-width="1"/>
<path d="M677.2 25.5H697.7" stroke="#000000" stroke-width="1.6"/>
<path d="M687.45 20.22L692.73 25.5L687.45 30.78L682.17 25.5Z" fill="#000000"/>
<path d="M677.2 39.57H697.7" stroke="#0000ff" stroke-width="1.6"/>
<path d="M686.38 36.37L688.52 36.37L688.52 38.5L690.65 38.5L690.65 40.64L688.52 40.64L688.52 42.77L686.38 42.77L686.38 40.64L684.25 40.64L684.25 38.5L686.38 38.5Z" fill="#0000ff" stroke="#0000ff" stroke-width="1.07" stroke-linejoin="miter"/>
<path d="M677.2 53.64H697.7" stroke="#008000" stroke-width="1.6"/>
<path d="M687.45 50.63L690.46 56.65L684.44 56.65Z" fill="#008000" stroke="#008000" stroke-width="1.07" stroke-linejoin="miter"/>
<path d="M677.2 67.71H697.7" stroke="#ff0000" stroke-width="1.6"/>
<circle cx="687.45" cy="67.71" r="3.74" fill="#ff0000"/>
<path d="M62.88 274.75V482.3M87.1 274.75V482.3M117.37 274.75V482.3M147.64 274.75V482.3M177.91 274.75V482.3M208.17 274.75V482.3M238.44 274.75V482.3M268.71 274.75V482.3M298.98 274.75V482.3M341.36 274.75V482.3M48.35 482.3H368M48.35 459.24H368M48.35 436.18H368M48.35 413.12H368M48.35 390.06H368M48.35 366.99H368M48.35 343.93H368M48.35 320.87H368M48.35 297.81H368M48.35 274.75H368" stroke="#b0b0b0" stroke-width="0.8" fill="none"/>
<clipPath id="c48_274"><rect x="48.35" y="274.75" width="319.65" height="207.55"/></clipPath>
<g clip-path="url(#c48_274)">
<path d="M62.88 370.34L68.93 337.71L74.99 358.35L81.04 362.96L87.1 370.68L93.15 410.23L99.2 441.25L105.26 434.79L111.31 441.94L117.37 391.21L123.42 390.06L129.47 408.85L135.53 412.19L141.58 404.35L147.64 424.65L153.69 422.23L159.74 426.49L165.8 432.6L171.85 410.58L177.91 417.04L183.96 423.49L190.01 409.66L196.07 413.81L202.12 429.95L208.17 411.85L214.23 416.35L220.28 433.18L226.34 417.38L232.39 423.96L238.44 426.49L244.5 407.01L250.55 423.15L256.61 431.57L262.66 419.69L268.71 434.79L274.77 435.26L280.82 411.5L286.88 429.61L292.93 433.53L298.98 396.28L305.04 430.87L311.09 433.41L317.15 442.17L323.2 455.32L329.25 456.24L335.31 445.52L341.36 465.35L347.42 454.97L353.47 462.12" stroke="#000000" stroke-width="1.6" fill="none" stroke-linejoin="round"/>
<path d="M62.88 365.06L68.16 370.34L62.88 375.62L57.6 370.34Z" fill="#000000"/><path d="M68.93 332.42L74.22 337.71L68.93 342.99L63.65 337.71Z" fill="#000000"/><path d="M74.99 353.06L80.27 358.35L74.99 363.63L69.71 358.35Z" fill="#000000"/><path d="M81.04 357.68L86.32 362.96L81.04 368.24L75.76 362.96Z" fill="#000000"/><path d="M87.1 365.4L92.38 370.68L87.1 375.97L81.81 370.68Z" fill="#000000"/><path d="M93.15 404.95L98.43 410.23L93.15 415.52L87.87 410.23Z" fill="#000000"/><path d="M99.2 435.97L104.49 441.25L99.2 446.53L93.92 441.25Z" fill="#000000"/><path d="M105.26 429.51L110.54 434.79L105.26 440.08L99.98 434.79Z" fill="#000000"/><path d="M111.31 436.66L116.59 441.94L111.31 447.23L106.03 441.94Z" fill="#000000"/><path d="M117.37 385.93L122.65 391.21L117.37 396.49L112.08 391.21Z" fill="#000000"/><path d="M123.42 384.77L128.7 390.06L123.42 395.34L118.14 390.06Z" fill="#000000"/><path d="M129.47 403.57L134.76 408.85L129.47 414.13L124.19 408.85Z" fill="#000000"/><path d="M135.53 406.91L140.81 412.19L135.53 417.48L130.25 412.19Z" fill="#000000"/><path d="M141.58 399.07L146.86 404.35L141.58 409.64L136.3 404.35Z" fill="#000000"/><path d="M147.64 419.37L152.92 424.65L147.64 429.93L142.35 424.65Z" fill="#000000"/><path d="M153.69 416.94L158.97 422.23L153.69 427.51L148.41 422.23Z" fill="#000000"/><path d="M159.74 421.21L165.03 426.49L159.74 431.77L154.46 426.49Z" fill="#000000"/><path d="M165.8 427.32L171.08 432.6L165.8 437.89L160.52 432.6Z" fill="#000000"/><path d="M171.85 405.3L177.13 410.58L171.85 415.86L166.57 410.58Z" fill="#000000"/><path d="M177.91 411.76L183.19 417.04L177.91 422.32L172.62 417.04Z" fill="#000000"/><path d="M183.96 418.21L189.24 423.49L183.96 428.78L178.68 423.49Z" fill="#000000"/><path d="M190.01 404.38L195.3 409.66L190.01 414.94L184.73 409.66Z" fill="#000000"/><path d="M196.07 408.53L201.35 413.81L196.07 419.09L190.79 413.81Z" fill="#000000"/><path d="M202.12 424.67L207.4 429.95L202.12 435.23L196.84 429.95Z" fill="#000000"/><path d="M208.17 406.57L213.46 411.85L208.17 417.13L202.89 411.85Z" fill="#000000"/><path d="M214.23 411.06L219.51 416.35L214.23 421.63L208.95 416.35Z" fill="#000000"/><path d="M220.28 427.9L225.56 433.18L220.28 438.46L215 433.18Z" fill="#000000"/><path d="M226.34 412.1L231.62 417.38L226.34 422.67L221.05 417.38Z" fill="#000000"/><path d="M232.39 418.67L237.67 423.96L232.39 429.24L227.11 423.96Z" fill="#000000"/><path d="M238.44 421.21L243.73 426.49L238.44 431.77L233.16 426.49Z" fill="#000000"/><path d="M244.5 401.72L249.78 407.01L244.5 412.29L239.22 407.01Z" fill="#000000"/><path d="M250.55 417.87L255.83 423.15L250.55 428.43L245.27 423.15Z" fill="#000000"/><path d="M256.61 426.28L261.89 431.57L256.61 436.85L251.32 431.57Z" fill="#000000"/><path d="M262.66 414.41L267.94 419.69L262.66 424.97L257.38 419.69Z" fill="#000000"/><path d="M268.71 429.51L274 434.79L268.71 440.08L263.43 434.79Z" fill="#000000"/><path d="M274.77 429.97L280.05 435.26L274.77 440.54L269.49 435.26Z" fill="#000000"/><path d="M280.82 406.22L286.1 411.5L280.82 416.78L275.54 411.5Z" fill="#000000"/><path d="M286.88 424.32L292.16 429.61L286.88 434.89L281.59 429.61Z" fill="#000000"/><path d="M292.93 428.24L298.21 433.53L292.93 438.81L287.65 433.53Z" fill="#000000"/><path d="M298.98 391L304.27 396.28L298.98 401.56L293.7 396.28Z" fill="#000000"/><path d="M305.04 425.59L310.32 430.87L305.04 436.16L299.76 430.87Z" fill="#000000"/><path d="M311.09 428.13L316.37 433.41L311.09 438.69L305.81 433.41Z" fill="#000000"/><path d="M317.15 436.89L322.43 442.17L317.15 447.46L311.86 442.17Z" fill="#000000"/><path d="M323.2 450.04L328.48 455.32L323.2 460.6L317.92 455.32Z" fill="#000000"/><path d="M329.25 450.96L334.54 456.24L329.25 461.52L323.97 456.24Z" fill="#000000"/><path d="M335.31 440.24L340.59 445.52L335.31 450.8L330.03 445.52Z" fill="#000000"/><path d="M341.36 460.07L346.64 465.35L341.36 470.63L336.08 465.35Z" fill="#000000"/><path d="M347.42 449.69L352.7 454.97L347.42 460.25L342.13 454.97Z" fill="#000000"/><path d="M353.47 456.84L358.75 462.12L353.47 467.4L348.19 462.12Z" fill="#000000"/>
<path d="M74.99 357.08L81.04 327.91L87.1 321.33L93.15 333.9L99.2 330.67L105.26 334.36L111.31 357.08L117.37 330.1L123.42 341.05L129.47 358.35L135.53 334.36L141.58 323.41L147.64 338.4L153.69 337.25L159.74 342.43L165.8 357.08L171.85 335.98L177.91 347.39L183.96 358.69L190.01 349.93L196.07 360.31L202.12 378.99L208.17 367.34L214.23 379.22L220.28 407.24L226.34 391.79L232.39 397.55L238.44 402.97L244.5 377.6L250.55 385.21L256.61 387.75L262.66 376.22L268.71 390.06L274.77 403.09L280.82 381.98L286.88 397.09L292.93 403.78L298.98 373.91L305.04 401.12L311.09 404.58L317.15 411.73L323.2 427.76L329.25 434.22L335.31 429.03L341.36 446.32" stroke="#0000ff" stroke-width="1.6" fill="none" stroke-linejoin="round"/>
<path d="M73.92 353.88L76.05 353.88L76.05 356.01L78.19 356.01L78.19 358.14L76.05 358.14L76.05 360.28L73.92 360.28L73.92 358.14L71.79 358.14L71.79 356.01L73.92 356.01Z" fill="#0000ff" stroke="#0000ff" stroke-width="1.07" stroke-linejoin="miter"/><path d="M79.97 324.71L82.11 324.71L82.11 326.84L84.24 326.84L84.24 328.97L82.11 328.97L82.11 331.11L79.97 331.11L79.97 328.97L77.84 328.97L77.84 326.84L79.97 326.84Z" fill="#0000ff" stroke="#0000ff" stroke-width="1.07" stroke-linejoin="miter"/><path d="M86.03 318.13L88.16 318.13L88.16 320.27L90.3 320.27L90.3 322.4L88.16 322.4L88.16 324.53L86.03 324.53L86.03 322.4L83.9 322.4L83.9 320.27L86.03 320.27Z" fill="#0000ff" stroke="#0000ff" stroke-width="1.07" stroke-linejoin="miter"/><path d="M92.08 330.7L94.22 330.7L94.22 332.84L96.35 332.84L96.35 334.97L94.22 334.97L94.22 337.1L92.08 337.1L92.08 334.97L89.95 334.97L89.95 332.84L92.08 332.84Z" fill="#0000ff" stroke="#0000ff" stroke-width="1.07" stroke-linejoin="miter"/><path d="M98.14 327.47L100.27 327.47L100.27 329.61L102.4 329.61L102.4 331.74L100.27 331.74L100.27 333.87L98.14 333.87L98.14 331.74L96 331.74L96 329.61L98.14 329.61Z" fill="#0000ff" stroke="#0000ff" stroke-width="1.07" stroke-linejoin="miter"/><path d="M104.19 331.16L106.32 331.16L106.32 333.3L108.46 333.3L108.46 335.43L106.32 335.43L106.32 337.56L104.19 337.56L104.19 335.43L102.06 335.43L102.06 333.3L104.19 333.3Z" fill="#0000ff" stroke="#0000ff" stroke-width="1.07" stroke-linejoin="miter"/><path d="M110.24 353.88L112.38 353.88L112.38 356.01L114.51 356.01L114.51 358.14L112.38 358.14L112.38 360.28L110.24 360.28L110.24 358.14L108.11 358.14L108.11 356.01L110.24 356.01Z" fill="#0000ff" stroke="#0000ff" stroke-width="1.07" stroke-linejoin="miter"/><path d="M116.3 326.9L118.43 326.9L118.43 329.03L120.57 329.03L120.57 331.16L118.43 331.16L118.43 333.3L116.3 333.3L116.3 331.16L114.17 331.16L114.17 329.03L116.3 329.03Z" fill="#0000ff" stroke="#0000ff" stroke-width="1.07" stroke-linejoin="miter"/><path d="M122.35 337.85L124.49 337.85L124.49 339.98L126.62 339.98L126.62 342.12L124.49 342.12L124.49 344.25L122.35 344.25L122.35 342.12L120.22 342.12L120.22 339.98L122.35 339.98Z" fill="#0000ff" stroke="#0000ff" stroke-width="1.07" stroke-linejoin="miter"/><path d="M128.41 355.15L130.54 355.15L130.54 357.28L132.67 357.28L132.67 359.41L130.54 359.41L130.54 361.55L128.41 361.55L128.41 359.41L126.27 359.41L126.27 357.28L128.41 357.28Z" fill="#0000ff" stroke="#0000ff" stroke-width="1.07" stroke-linejoin="miter"/><path d="M134.46 331.16L136.59 331.16L136.59 333.3L138.73 333.3L138.73 335.43L136.59 335.43L136.59 337.56L134.46 337.56L134.46 335.43L132.33 335.43L132.33 333.3L134.46 333.3Z" fill="#0000ff" stroke="#0000ff" stroke-width="1.07" stroke-linejoin="miter"/><path d="M140.51 320.21L142.65 320.21L142.65 322.34L144.78 322.34L144.78 324.48L142.65 324.48L142.65 326.61L140.51 326.61L140.51 324.48L138.38 324.48L138.38 322.34L140.51 322.34Z" fill="#0000ff" stroke="#0000ff" stroke-width="1.07" stroke-linejoin="miter"/><path d="M146.57 335.2L148.7 335.2L148.7 337.33L150.84 337.33L150.84 339.47L148.7 339.47L148.7 341.6L146.57 341.6L146.57 339.47L144.44 339.47L144.44 337.33L146.57 337.33Z" fill="#0000ff" stroke="#0000ff" stroke-width="1.07" stroke-linejoin="miter"/><path d="M152.62 334.05L154.76 334.05L154.76 336.18L156.89 336.18L156.89 338.31L154.76 338.31L154.76 340.45L152.62 340.45L152.62 338.31L150.49 338.31L150.49 336.18L152.62 336.18Z" fill="#0000ff" stroke="#0000ff" stroke-width="1.07" stroke-linejoin="miter"/><path d="M158.68 339.23L160.81 339.23L160.81 341.37L162.94 341.37L162.94 343.5L160.81 343.5L160.81 345.63L158.68 345.63L158.68 343.5L156.54 343.5L156.54 341.37L158.68 341.37Z" fill="#0000ff" stroke="#0000ff" stroke-width="1.07" stroke-linejoin="miter"/><path d="M164.73 353.88L166.86 353.88L166.86 356.01L169 356.01L169 358.14L166.86 358.14L166.86 360.28L164.73 360.28L164.73 358.14L162.6 358.14L162.6 356.01L164.73 356.01Z" fill="#0000ff" stroke="#0000ff" stroke-width="1.07" stroke-linejoin="miter"/><path d="M170.78 332.78L172.92 332.78L172.92 334.91L175.05 334.91L175.05 337.04L172.92 337.04L172.92 339.18L170.78 339.18L170.78 337.04L168.65 337.04L168.65 334.91L170.78 334.91Z" fill="#0000ff" stroke="#0000ff" stroke-width="1.07" stroke-linejoin="miter"/><path d="M176.84 344.19L178.97 344.19L178.97 346.33L181.11 346.33L181.11 348.46L178.97 348.46L178.97 350.59L176.84 350.59L176.84 348.46L174.71 348.46L174.71 346.33L176.84 346.33Z" fill="#0000ff" stroke="#0000ff" stroke-width="1.07" stroke-linejoin="miter"/><path d="M182.89 355.49L185.03 355.49L185.03 357.63L187.16 357.63L187.16 359.76L185.03 359.76L185.03 361.89L182.89 361.89L182.89 359.76L180.76 359.76L180.76 357.63L182.89 357.63Z" fill="#0000ff" stroke="#0000ff" stroke-width="1.07" stroke-linejoin="miter"/><path d="M188.95 346.73L191.08 346.73L191.08 348.86L193.21 348.86L193.21 351L191.08 351L191.08 353.13L188.95 353.13L188.95 351L186.81 351L186.81 348.86L188.95 348.86Z" fill="#0000ff" stroke="#0000ff" stroke-width="1.07" stroke-linejoin="miter"/><path d="M195 357.11L197.13 357.11L197.13 359.24L199.27 359.24L199.27 361.37L197.13 361.37L197.13 363.51L195 363.51L195 361.37L192.87 361.37L192.87 359.24L195 359.24Z" fill="#0000ff" stroke="#0000ff" stroke-width="1.07" stroke-linejoin="miter"/><path d="M201.05 375.79L203.19 375.79L203.19 377.92L205.32 377.92L205.32 380.05L203.19 380.05L203.19 382.19L201.05 382.19L201.05 380.05L198.92 380.05L198.92 377.92L201.05 377.92Z" fill="#0000ff" stroke="#0000ff" stroke-width="1.07" stroke-linejoin="miter"/><path d="M207.11 364.14L209.24 364.14L209.24 366.27L211.37 366.27L211.37 368.41L209.24 368.41L209.24 370.54L207.11 370.54L207.11 368.41L204.97 368.41L204.97 366.27L207.11 366.27Z" fill="#0000ff" stroke="#0000ff" stroke-width="1.07" stroke-linejoin="miter"/><path d="M213.16 376.02L215.3 376.02L215.3 378.15L217.43 378.15L217.43 380.28L215.3 380.28L215.3 382.42L213.16 382.42L213.16 380.28L211.03 380.28L211.03 378.15L213.16 378.15Z" fill="#0000ff" stroke="#0000ff" stroke-width="1.07" stroke-linejoin="miter"/><path d="M219.22 404.04L221.35 404.04L221.35 406.17L223.48 406.17L223.48 408.3L221.35 408.3L221.35 410.44L219.22 410.44L219.22 408.3L217.08 408.3L217.08 406.17L219.22 406.17Z" fill="#0000ff" stroke="#0000ff" stroke-width="1.07" stroke-linejoin="miter"/><path d="M225.27 388.59L227.4 388.59L227.4 390.72L229.54 390.72L229.54 392.85L227.4 392.85L227.4 394.99L225.27 394.99L225.27 392.85L223.14 392.85L223.14 390.72L225.27 390.72Z" fill="#0000ff" stroke="#0000ff" stroke-width="1.07" stroke-linejoin="miter"/><path d="M231.32 394.35L233.46 394.35L233.46 396.48L235.59 396.48L235.59 398.62L233.46 398.62L233.46 400.75L231.32 400.75L231.32 398.62L229.19 398.62L229.19 396.48L231.32 396.48Z" fill="#0000ff" stroke="#0000ff" stroke-width="1.07" stroke-linejoin="miter"/><path d="M237.38 399.77L239.51 399.77L239.51 401.9L241.64 401.9L241.64 404.04L239.51 404.04L239.51 406.17L237.38 406.17L237.38 404.04L235.24 404.04L235.24 401.9L237.38 401.9Z" fill="#0000ff" stroke="#0000ff" stroke-width="1.07" stroke-linejoin="miter"/><path d="M243.43 374.4L245.57 374.4L245.57 376.54L247.7 376.54L247.7 378.67L245.57 378.67L245.57 380.8L243.43 380.8L243.43 378.67L241.3 378.67L241.3 376.54L243.43 376.54Z" fill="#0000ff" stroke="#0000ff" stroke-width="1.07" stroke-linejoin="miter"/><path d="M249.49 382.01L251.62 382.01L251.62 384.15L253.75 384.15L253.75 386.28L251.62 386.28L251.62 388.41L249.49 388.41L249.49 386.28L247.35 386.28L247.35 384.15L249.49 384.15Z" fill="#0000ff" stroke="#0000ff" stroke-width="1.07" stroke-linejoin="miter"/><path d="M255.54 384.55L257.67 384.55L257.67 386.68L259.81 386.68L259.81 388.82L257.67 388.82L257.67 390.95L255.54 390.95L255.54 388.82L253.41 388.82L253.41 386.68L255.54 386.68Z" fill="#0000ff" stroke="#0000ff" stroke-width="1.07" stroke-linejoin="miter"/><path d="M261.59 373.02L263.73 373.02L263.73 375.15L265.86 375.15L265.86 377.29L263.73 377.29L263.73 379.42L261.59 379.42L261.59 377.29L259.46 377.29L259.46 375.15L261.59 375.15Z" fill="#0000ff" stroke="#0000ff" stroke-width="1.07" stroke-linejoin="miter"/><path d="M267.65 386.86L269.78 386.86L269.78 388.99L271.91 388.99L271.91 391.12L269.78 391.12L269.78 393.26L267.65 393.26L267.65 391.12L265.51 391.12L265.51 388.99L267.65 388.99Z" fill="#0000ff" stroke="#0000ff" stroke-width="1.07" stroke-linejoin="miter"/><path d="M273.7 399.89L275.84 399.89L275.84 402.02L277.97 402.02L277.97 404.15L275.84 404.15L275.84 406.29L273.7 406.29L273.7 404.15L271.57 404.15L271.57 402.02L273.7 402.02Z" fill="#0000ff" stroke="#0000ff" stroke-width="1.07" stroke-linejoin="miter"/><path d="M279.76 378.78L281.89 378.78L281.89 380.92L284.02 380.92L284.02 383.05L281.89 383.05L281.89 385.18L279.76 385.18L279.76 383.05L277.62 383.05L277.62 380.92L279.76 380.92Z" fill="#0000ff" stroke="#0000ff" stroke-width="1.07" stroke-linejoin="miter"/><path d="M285.81 393.89L287.94 393.89L287.94 396.02L290.08 396.02L290.08 398.16L287.94 398.16L287.94 400.29L285.81 400.29L285.81 398.16L283.68 398.16L283.68 396.02L285.81 396.02Z" fill="#0000ff" stroke="#0000ff" stroke-width="1.07" stroke-linejoin="miter"/><path d="M291.86 400.58L294 400.58L294 402.71L296.13 402.71L296.13 404.84L294 404.84L294 406.98L291.86 406.98L291.86 404.84L289.73 404.84L289.73 402.71L291.86 402.71Z" fill="#0000ff" stroke="#0000ff" stroke-width="1.07" stroke-linejoin="miter"/><path d="M297.92 370.71L300.05 370.71L300.05 372.85L302.18 372.85L302.18 374.98L300.05 374.98L300.05 377.11L297.92 377.11L297.92 374.98L295.78 374.98L295.78 372.85L297.92 372.85Z" fill="#0000ff" stroke="#0000ff" stroke-width="1.07" stroke-linejoin="miter"/><path d="M303.97 397.92L306.11 397.92L306.11 400.06L308.24 400.06L308.24 402.19L306.11 402.19L306.11 404.32L303.97 404.32L303.97 402.19L301.84 402.19L301.84 400.06L303.97 400.06Z" fill="#0000ff" stroke="#0000ff" stroke-width="1.07" stroke-linejoin="miter"/><path d="M310.03 401.38L312.16 401.38L312.16 403.52L314.29 403.52L314.29 405.65L312.16 405.65L312.16 407.78L310.03 407.78L310.03 405.65L307.89 405.65L307.89 403.52L310.03 403.52Z" fill="#0000ff" stroke="#0000ff" stroke-width="1.07" stroke-linejoin="miter"/><path d="M316.08 408.53L318.21 408.53L318.21 410.67L320.35 410.67L320.35 412.8L318.21 412.8L318.21 414.93L316.08 414.93L316.08 412.8L313.95 412.8L313.95 410.67L316.08 410.67Z" fill="#0000ff" stroke="#0000ff" stroke-width="1.07" stroke-linejoin="miter"/><path d="M322.13 424.56L324.27 424.56L324.27 426.69L326.4 426.69L326.4 428.83L324.27 428.83L324.27 430.96L322.13 430.96L322.13 428.83L320 428.83L320 426.69L322.13 426.69Z" fill="#0000ff" stroke="#0000ff" stroke-width="1.07" stroke-linejoin="miter"/><path d="M328.19 431.02L330.32 431.02L330.32 433.15L332.45 433.15L332.45 435.28L330.32 435.28L330.32 437.42L328.19 437.42L328.19 435.28L326.05 435.28L326.05 433.15L328.19 433.15Z" fill="#0000ff" stroke="#0000ff" stroke-width="1.07" stroke-linejoin="miter"/><path d="M334.24 425.83L336.38 425.83L336.38 427.96L338.51 427.96L338.51 430.1L336.38 430.1L336.38 432.23L334.24 432.23L334.24 430.1L332.11 430.1L332.11 427.96L334.24 427.96Z" fill="#0000ff" stroke="#0000ff" stroke-width="1.07" stroke-linejoin="miter"/><path d="M340.3 443.12L342.43 443.12L342.43 445.26L344.56 445.26L344.56 447.39L342.43 447.39L342.43 449.52L340.3 449.52L340.3 447.39L338.16 447.39L338.16 445.26L340.3 445.26Z" fill="#0000ff" stroke="#0000ff" stroke-width="1.07" stroke-linejoin="miter"/>
<path d="M62.88 334.59L68.93 336.55L74.99 344.51L81.04 338.4L87.1 361.58L93.15 392.02L99.2 421.88L105.26 426.38L111.31 426.61L117.37 375.87L123.42 385.21L129.47 397.55L135.53 402.85L141.58 395.01L147.64 414.85L153.69 411.16L159.74 421.53L165.8 422.23L171.85 398.82L177.91 408.62L183.96 412.42L190.01 399.51L196.07 399.74L202.12 419L208.17 393.63L214.23 401.47L220.28 417.61L226.34 400.2L232.39 408.85L238.44 411.96L244.5 395.01L250.55 411.5L256.61 418.31L262.66 405.05L268.71 421.88L274.77 422.46L280.82 397.55L286.88 415.42L292.93 423.49L298.98 379.79L305.04 416L311.09 416.92L317.15 427.65L323.2 438.6L329.25 441.71L335.31 429.95L341.36 451.05L347.42 445.86L353.47 450.71" stroke="#008000" stroke-width="1.6" fill="none" stroke-linejoin="round"/>
<path d="M62.88 331.59L65.89 337.6L59.87 337.6Z" fill="#008000" stroke="#008000" stroke-width="1.07" stroke-linejoin="miter"/><path d="M68.93 333.55L71.94 339.56L65.93 339.56Z" fill="#008000" stroke="#008000" stroke-width="1.07" stroke-linejoin="miter"/><path d="M74.99 341.5L78 347.52L71.98 347.52Z" fill="#008000" stroke="#008000" stroke-width="1.07" stroke-linejoin="miter"/><path d="M81.04 335.39L84.05 341.41L78.03 341.41Z" fill="#008000" stroke="#008000" stroke-width="1.07" stroke-linejoin="miter"/><path d="M87.1 358.57L90.1 364.58L84.09 364.58Z" fill="#008000" stroke="#008000" stroke-width="1.07" stroke-linejoin="miter"/><path d="M93.15 389.01L96.16 395.02L90.14 395.02Z" fill="#008000" stroke="#008000" stroke-width="1.07" stroke-linejoin="miter"/><path d="M99.2 418.87L102.21 424.89L96.2 424.89Z" fill="#008000" stroke="#008000" stroke-width="1.07" stroke-linejoin="miter"/><path d="M105.26 423.37L108.27 429.38L102.25 429.38Z" fill="#008000" stroke="#008000" stroke-width="1.07" stroke-linejoin="miter"/><path d="M111.31 423.6L114.32 429.62L108.3 429.62Z" fill="#008000" stroke="#008000" stroke-width="1.07" stroke-linejoin="miter"/><path d="M117.37 372.86L120.37 378.88L114.36 378.88Z" fill="#008000" stroke="#008000" stroke-width="1.07" stroke-linejoin="miter"/><path d="M123.42 382.2L126.43 388.22L120.41 388.22Z" fill="#008000" stroke="#008000" stroke-width="1.07" stroke-linejoin="miter"/><path d="M129.47 394.54L132.48 400.56L126.47 400.56Z" fill="#008000" stroke="#008000" stroke-width="1.07" stroke-linejoin="miter"/><path d="M135.53 399.85L138.54 405.86L132.52 405.86Z" fill="#008000" stroke="#008000" stroke-width="1.07" stroke-linejoin="miter"/><path d="M141.58 392.01L144.59 398.02L138.57 398.02Z" fill="#008000" stroke="#008000" stroke-width="1.07" stroke-linejoin="miter"/><path d="M147.64 411.84L150.64 417.85L144.63 417.85Z" fill="#008000" stroke="#008000" stroke-width="1.07" stroke-linejoin="miter"/><path d="M153.69 408.15L156.7 414.16L150.68 414.16Z" fill="#008000" stroke="#008000" stroke-width="1.07" stroke-linejoin="miter"/><path d="M159.74 418.53L162.75 424.54L156.74 424.54Z" fill="#008000" stroke="#008000" stroke-width="1.07" stroke-linejoin="miter"/><path d="M165.8 419.22L168.81 425.23L162.79 425.23Z" fill="#008000" stroke="#008000" stroke-width="1.07" stroke-linejoin="miter"/><path d="M171.85 395.81L174.86 401.83L168.84 401.83Z" fill="#008000" stroke="#008000" stroke-width="1.07" stroke-linejoin="miter"/><path d="M177.91 405.61L180.91 411.63L174.9 411.63Z" fill="#008000" stroke="#008000" stroke-width="1.07" stroke-linejoin="miter"/><path d="M183.96 409.42L186.97 415.43L180.95 415.43Z" fill="#008000" stroke="#008000" stroke-width="1.07" stroke-linejoin="miter"/><path d="M190.01 396.5L193.02 402.52L187.01 402.52Z" fill="#008000" stroke="#008000" stroke-width="1.07" stroke-linejoin="miter"/><path d="M196.07 396.73L199.08 402.75L193.06 402.75Z" fill="#008000" stroke="#008000" stroke-width="1.07" stroke-linejoin="miter"/><path d="M202.12 415.99L205.13 422.01L199.11 422.01Z" fill="#008000" stroke="#008000" stroke-width="1.07" stroke-linejoin="miter"/><path d="M208.17 390.62L211.18 396.64L205.17 396.64Z" fill="#008000" stroke="#008000" stroke-width="1.07" stroke-linejoin="miter"/><path d="M214.23 398.46L217.24 404.48L211.22 404.48Z" fill="#008000" stroke="#008000" stroke-width="1.07" stroke-linejoin="miter"/><path d="M220.28 414.61L223.29 420.62L217.27 420.62Z" fill="#008000" stroke="#008000" stroke-width="1.07" stroke-linejoin="miter"/><path d="M226.34 397.19L229.34 403.21L223.33 403.21Z" fill="#008000" stroke="#008000" stroke-width="1.07" stroke-linejoin="miter"/><path d="M232.39 405.84L235.4 411.86L229.38 411.86Z" fill="#008000" stroke="#008000" stroke-width="1.07" stroke-linejoin="miter"/><path d="M238.44 408.96L241.45 414.97L235.44 414.97Z" fill="#008000" stroke="#008000" stroke-width="1.07" stroke-linejoin="miter"/><path d="M244.5 392.01L247.51 398.02L241.49 398.02Z" fill="#008000" stroke="#008000" stroke-width="1.07" stroke-linejoin="miter"/><path d="M250.55 408.49L253.56 414.51L247.54 414.51Z" fill="#008000" stroke="#008000" stroke-width="1.07" stroke-linejoin="miter"/><path d="M256.61 415.3L259.61 421.31L253.6 421.31Z" fill="#008000" stroke="#008000" stroke-width="1.07" stroke-linejoin="miter"/><path d="M262.66 402.04L265.67 408.05L259.65 408.05Z" fill="#008000" stroke="#008000" stroke-width="1.07" stroke-linejoin="miter"/><path d="M268.71 418.87L271.72 424.89L265.71 424.89Z" fill="#008000" stroke="#008000" stroke-width="1.07" stroke-linejoin="miter"/><path d="M274.77 419.45L277.78 425.46L271.76 425.46Z" fill="#008000" stroke="#008000" stroke-width="1.07" stroke-linejoin="miter"/><path d="M280.82 394.54L283.83 400.56L277.81 400.56Z" fill="#008000" stroke="#008000" stroke-width="1.07" stroke-linejoin="miter"/><path d="M286.88 412.41L289.88 418.43L283.87 418.43Z" fill="#008000" stroke="#008000" stroke-width="1.07" stroke-linejoin="miter"/><path d="M292.93 420.49L295.94 426.5L289.92 426.5Z" fill="#008000" stroke="#008000" stroke-width="1.07" stroke-linejoin="miter"/><path d="M298.98 376.79L301.99 382.8L295.98 382.8Z" fill="#008000" stroke="#008000" stroke-width="1.07" stroke-linejoin="miter"/><path d="M305.04 412.99L308.05 419.01L302.03 419.01Z" fill="#008000" stroke="#008000" stroke-width="1.07" stroke-linejoin="miter"/><path d="M311.09 413.91L314.1 419.93L308.08 419.93Z" fill="#008000" stroke="#008000" stroke-width="1.07" stroke-linejoin="miter"/><path d="M317.15 424.64L320.15 430.65L314.14 430.65Z" fill="#008000" stroke="#008000" stroke-width="1.07" stroke-linejoin="miter"/><path d="M323.2 435.59L326.21 441.61L320.19 441.61Z" fill="#008000" stroke="#008000" stroke-width="1.07" stroke-linejoin="miter"/><path d="M329.25 438.7L332.26 444.72L326.25 444.72Z" fill="#008000" stroke="#008000" stroke-width="1.07" stroke-linejoin="miter"/><path d="M335.31 426.94L338.32 432.96L332.3 432.96Z" fill="#008000" stroke="#008000" stroke-width="1.07" stroke-linejoin="miter"/><path d="M341.36 448.04L344.37 454.06L338.35 454.06Z" fill="#008000" stroke="#008000" stroke-width="1.07" stroke-linejoin="miter"/><path d="M347.42 442.86L350.42 448.87L344.41 448.87Z" fill="#008000" stroke="#008000" stroke-width="1.07" stroke-linejoin="miter"/><path d="M353.47 447.7L356.48 453.71L350.46 453.71Z" fill="#008000" stroke="#008000" stroke-width="1.07" stroke-linejoin="miter"/>
<path d="M62.88 298.62L68.93 289.28L74.99 298.96L81.04 293.78L87.1 318.45L93.15 349.93L99.2 386.25L105.26 399.51L111.31 385.56L117.37 337.59L123.42 336.21L129.47 347.16L135.53 359.73L141.58 346.7L147.64 373.22L153.69 377.14L159.74 382.68L165.8 387.86L171.85 360.31L177.91 371.95L183.96 378.29L190.01 366.07L196.07 368.03L202.12 380.83L208.17 361.34L214.23 368.72L220.28 381.98L226.34 363.88L232.39 369.53L238.44 372.3L244.5 354.89L250.55 372.64L256.61 387.4L262.66 378.41L268.71 388.67L274.77 389.59L280.82 360.31L286.88 373.22L292.93 380.37L298.98 345.43L305.04 381.75L311.09 381.75L317.15 396.17L323.2 410.81L329.25 413.81L335.31 403.78L341.36 421.3L347.42 428.11L353.47 444.94" stroke="#ff0000" stroke-width="1.6" fill="none" stroke-linejoin="round"/>
<circle cx="62.88" cy="298.62" r="3.74" fill="#ff0000"/><circle cx="68.93" cy="289.28" r="3.74" fill="#ff0000"/><circle cx="74.99" cy="298.96" r="3.74" fill="#ff0000"/><circle cx="81.04" cy="293.78" r="3.74" fill="#ff0000"/><circle cx="87.1" cy="318.45" r="3.74" fill="#ff0000"/><circle cx="93.15" cy="349.93" r="3.74" fill="#ff0000"/><circle cx="99.2" cy="386.25" r="3.74" fill="#ff0000"/><circle cx="105.26" cy="399.51" r="3.74" fill="#ff0000"/><circle cx="111.31" cy="385.56" r="3.74" fill="#ff0000"/><circle cx="117.37" cy="337.59" r="3.74" fill="#ff0000"/><circle cx="123.42" cy="336.21" r="3.74" fill="#ff0000"/><circle cx="129.47" cy="347.16" r="3.74" fill="#ff0000"/><circle cx="135.53" cy="359.73" r="3.74" fill="#ff0000"/><circle cx="141.58" cy="346.7" r="3.74" fill="#ff0000"/><circle cx="147.64" cy="373.22" r="3.74" fill="#ff0000"/><circle cx="153.69" cy="377.14" r="3.74" fill="#ff0000"/><circle cx="159.74" cy="382.68" r="3.74" fill="#ff0000"/><circle cx="165.8" cy="387.86" r="3.74" fill="#ff0000"/><circle cx="171.85" cy="360.31" r="3.74" fill="#ff0000"/><circle cx="177.91" cy="371.95" r="3.74" fill="#ff0000"/><circle cx="183.96" cy="378.29" r="3.74" fill="#ff0000"/><circle cx="190.01" cy="366.07" r="3.74" fill="#ff0000"/><circle cx="196.07" cy="368.03" r="3.74" fill="#ff0000"/><circle cx="202.12" cy="380.83" r="3.74" fill="#ff0000"/><circle cx="208.17" cy="361.34" r="3.74" fill="#ff0000"/><circle cx="214.23" cy="368.72" r="3.74" fill="#ff0000"/><circle cx="220.28" cy="381.98" r="3.74" fill="#ff0000"/><circle cx="226.34" cy="363.88" r="3.74" fill="#ff0000"/><circle cx="232.39" cy="369.53" r="3.74" fill="#ff0000"/><circle cx="238.44" cy="372.3" r="3.74" fill="#ff0000"/><circle cx="244.5" cy="354.89" r="3.74" fill="#ff0000"/><circle cx="250.55" cy="372.64" r="3.74" fill="#ff0000"/><circle cx="256.61" cy="387.4" r="3.74" fill="#ff0000"/><circle cx="262.66" cy="378.41" r="3.74" fill="#ff0000"/><circle cx="268.71" cy="388.67" r="3.74" fill="#ff0000"/><circle cx="274.77" cy="389.59" r="3.74" fill="#ff0000"/><circle cx="280.82" cy="360.31" r="3.74" fill="#ff0000"/><circle cx="286.88" cy="373.22" r="3.74" fill="#ff0000"/><circle cx="292.93" cy="380.37" r="3.74" fill="#ff0000"/><circle cx="298.98" cy="345.43" r="3.74" fill="#ff0000"/><circle cx="305.04" cy="381.75" r="3.74" fill="#ff0000"/><circle cx="311.09" cy="381.75" r="3.74" fill="#ff0000"/><circle cx="317.15" cy="396.17" r="3.74" fill="#ff0000"/><circle cx="323.2" cy="410.81" r="3.74" fill="#ff0000"/><circle cx="329.25" cy="413.81" r="3.74" fill="#ff0000"/><circle cx="335.31" cy="403.78" r="3.74" fill="#ff0000"/><circle cx="341.36" cy="421.3" r="3.74" fill="#ff0000"/><circle cx="347.42" cy="428.11" r="3.74" fill="#ff0000"/><circle cx="353.47" cy="444.94" r="3.74" fill="#ff0000"/>
</g>
<path d="M62.88 482.3v3.6M87.1 482.3v3.6M117.37 482.3v3.6M147.64 482.3v3.6M177.91 482.3v3.6M208.17 482.3v3.6M238.44 482.3v3.6M268.71 482.3v3.6M298.98 482.3v3.6M341.36 482.3v3.6M48.35 482.3h-3.6M48.35 459.24h-3.6M48.35 436.18h-3.6M48.35 413.12h-3.6M48.35 390.06h-3.6M48.35 366.99h-3.6M48.35 343.93h-3.6M48.35 320.87h-3.6M48.35 297.81h-3.6M48.35 274.75h-3.6" stroke="#000" stroke-width="0.8" fill="none"/>
<rect x="48.35" y="274.75" width="319.65" height="207.55" fill="none" stroke="#000" stroke-width="0.85"/>
<rect x="275.25" y="279.45" width="88.3" height="58.9" rx="2" ry="2" fill="#fff" fill-opacity="0.8" stroke="#cccccc" stroke-width="1"/>
<path d="M278.15 287.35H298.65" stroke="#000000" stroke-width="1.6"/>
<path d="M288.4 282.07L293.68 287.35L288.4 292.63L283.12 287.35Z" fill="#000000"/>
<path d="M278.15 301.42H298.65" stroke="#0000ff" stroke-width="1.6"/>
<path d="M287.33 298.22L289.47 298.22L289.47 300.35L291.6 300.35L291.6 302.49L289.47 302.49L289.47 304.62L287.33 304.62L287.33 302.49L285.2 302.49L285.2 300.35L287.33 300.35Z" fill="#0000ff" stroke="#0000ff" stroke-width="1.07" stroke-linejoin="miter"/>
<path d="M278.15 315.49H298.65" stroke="#008000" stroke-width="1.6"/>
<path d="M288.4 312.48L291.41 318.5L285.39 318.5Z" fill="#008000" stroke="#008000" stroke-width="1.07" stroke-linejoin="miter"/>
<path d="M278.15 329.56H298.65" stroke="#ff0000" stroke-width="1.6"/>
<circle cx="288.4" cy="329.56" r="3.74" fill="#ff0000"/>
<path d="M461.95 274.75V482.3M487.25 274.75V482.3M518.88 274.75V482.3M550.52 274.75V482.3M582.15 274.75V482.3M613.78 274.75V482.3M645.41 274.75V482.3M677.04 274.75V482.3M708.67 274.75V482.3M752.95 274.75V482.3M447.4 482.3H767.5M447.4 452.65H767.5M447.4 423H767.5M447.4 393.35H767.5M447.4 363.7H767.5M447.4 334.05H767.5M447.4 304.4H767.5M447.4 274.75H767.5" stroke="#b0b0b0" stroke-width="0.8" fill="none"/>
<clipPath id="c447_274"><rect x="447.4" y="274.75" width="320.1" height="207.55"/></clipPath>
<g clip-path="url(#c447_274)">
<path d="M461.95 449.68L468.28 416.48L474.6 409.95L480.93 430.63L487.25 431.01L493.58 422.93L499.91 435.9L506.23 426.85L512.56 424.26L518.88 438.49L525.21 425.52L531.54 421L537.86 436.12L544.19 429.15L550.52 429L556.84 444.05L563.17 436.56L569.49 428.11L575.82 441.75L582.15 433.3L588.47 424.26L594.8 436.79L601.12 427.23L607.45 428.11L613.78 433.3L620.1 411.29L626.43 412.55L632.75 432.27L639.08 422.93L645.41 425.74L651.73 437.23L658.06 417.96L664.38 414.48L670.71 420.55L677.04 406.03L683.36 396.98L689.69 400.47L696.02 396.02L702.34 393.13L708.67 410.1L714.99 400.24L721.32 388.01L727.65 397.2L733.97 395.2L740.3 390.09L746.62 413.07L752.95 441.83" stroke="#000000" stroke-width="1.6" fill="none" stroke-linejoin="round"/>
<path d="M461.95 444.4L467.23 449.68L461.95 454.97L456.67 449.68Z" fill="#000000"/><path d="M468.28 411.19L473.56 416.48L468.28 421.76L462.99 416.48Z" fill="#000000"/><path d="M474.6 404.67L479.88 409.95L474.6 415.24L469.32 409.95Z" fill="#000000"/><path d="M480.93 425.35L486.21 430.63L480.93 435.92L475.65 430.63Z" fill="#000000"/><path d="M487.25 425.72L492.54 431.01L487.25 436.29L481.97 431.01Z" fill="#000000"/><path d="M493.58 417.64L498.86 422.93L493.58 428.21L488.3 422.93Z" fill="#000000"/><path d="M499.91 430.62L505.19 435.9L499.91 441.18L494.62 435.9Z" fill="#000000"/><path d="M506.23 421.57L511.51 426.85L506.23 432.14L500.95 426.85Z" fill="#000000"/><path d="M512.56 418.98L517.84 424.26L512.56 429.54L507.28 424.26Z" fill="#000000"/><path d="M518.88 433.21L524.17 438.49L518.88 443.77L513.6 438.49Z" fill="#000000"/><path d="M525.21 420.24L530.49 425.52L525.21 430.8L519.93 425.52Z" fill="#000000"/><path d="M531.54 415.72L536.82 421L531.54 426.28L526.25 421Z" fill="#000000"/><path d="M537.86 430.84L543.15 436.12L537.86 441.4L532.58 436.12Z" fill="#000000"/><path d="M544.19 423.87L549.47 429.15L544.19 434.43L538.91 429.15Z" fill="#000000"/><path d="M550.52 423.72L555.8 429L550.52 434.29L545.23 429Z" fill="#000000"/><path d="M556.84 438.77L562.12 444.05L556.84 449.33L551.56 444.05Z" fill="#000000"/><path d="M563.17 431.28L568.45 436.56L563.17 441.85L557.89 436.56Z" fill="#000000"/><path d="M569.49 422.83L574.78 428.11L569.49 433.4L564.21 428.11Z" fill="#000000"/><path d="M575.82 436.47L581.1 441.75L575.82 447.04L570.54 441.75Z" fill="#000000"/><path d="M582.15 428.02L587.43 433.3L582.15 438.59L576.86 433.3Z" fill="#000000"/><path d="M588.47 418.98L593.75 424.26L588.47 429.54L583.19 424.26Z" fill="#000000"/><path d="M594.8 431.51L600.08 436.79L594.8 442.07L589.52 436.79Z" fill="#000000"/><path d="M601.12 421.94L606.41 427.23L601.12 432.51L595.84 427.23Z" fill="#000000"/><path d="M607.45 422.83L612.73 428.11L607.45 433.4L602.17 428.11Z" fill="#000000"/><path d="M613.78 428.02L619.06 433.3L613.78 438.59L608.49 433.3Z" fill="#000000"/><path d="M620.1 406.01L625.38 411.29L620.1 416.57L614.82 411.29Z" fill="#000000"/><path d="M626.43 407.27L631.71 412.55L626.43 417.83L621.15 412.55Z" fill="#000000"/><path d="M632.75 426.98L638.04 432.27L632.75 437.55L627.47 432.27Z" fill="#000000"/><path d="M639.08 417.64L644.36 422.93L639.08 428.21L633.8 422.93Z" fill="#000000"/><path d="M645.41 420.46L650.69 425.74L645.41 431.02L640.12 425.74Z" fill="#000000"/><path d="M651.73 431.95L657.01 437.23L651.73 442.51L646.45 437.23Z" fill="#000000"/><path d="M658.06 412.68L663.34 417.96L658.06 423.24L652.78 417.96Z" fill="#000000"/><path d="M664.38 409.19L669.67 414.48L664.38 419.76L659.1 414.48Z" fill="#000000"/><path d="M670.71 415.27L675.99 420.55L670.71 425.84L665.43 420.55Z" fill="#000000"/><path d="M677.04 400.74L682.32 406.03L677.04 411.31L671.75 406.03Z" fill="#000000"/><path d="M683.36 391.7L688.65 396.98L683.36 402.26L678.08 396.98Z" fill="#000000"/><path d="M689.69 395.18L694.97 400.47L689.69 405.75L684.41 400.47Z" fill="#000000"/><path d="M696.02 390.74L701.3 396.02L696.02 401.3L690.73 396.02Z" fill="#000000"/><path d="M702.34 387.85L707.62 393.13L702.34 398.41L697.06 393.13Z" fill="#000000"/><path d="M708.67 404.82L713.95 410.1L708.67 415.38L703.39 410.1Z" fill="#000000"/><path d="M714.99 394.96L720.28 400.24L714.99 405.53L709.71 400.24Z" fill="#000000"/><path d="M721.32 382.73L726.6 388.01L721.32 393.3L716.04 388.01Z" fill="#000000"/><path d="M727.65 391.92L732.93 397.2L727.65 402.49L722.36 397.2Z" fill="#000000"/><path d="M733.97 389.92L739.25 395.2L733.97 400.49L728.69 395.2Z" fill="#000000"/><path d="M740.3 384.81L745.58 390.09L740.3 395.37L735.02 390.09Z" fill="#000000"/><path d="M746.62 407.79L751.91 413.07L746.62 418.35L741.34 413.07Z" fill="#000000"/><path d="M752.95 436.55L758.23 441.83L752.95 447.11L747.67 441.83Z" fill="#000000"/>
<path d="M474.6 457.39L480.93 465.25L487.25 464.36L493.58 457.84L499.91 458.58L506.23 448.57L512.56 458.43L518.88 461.25L525.21 444.87L531.54 458.95L537.86 477.48L544.19 457.69L550.52 456.8L556.84 466.96L563.17 458.14L569.49 455.76L575.82 465.92L582.15 457.84L588.47 458.73L594.8 467.85L601.12 456.8L607.45 466.96L613.78 472.37L620.1 453.24L626.43 448.72L632.75 456.06L639.08 436.34L645.41 446.94L651.73 458.58L658.06 443.68L664.38 445.24L670.71 446.05L677.04 430.86L683.36 418.92L689.69 421.07L696.02 417.29L702.34 413.73L708.67 415.88L714.99 400.39L721.32 413.96L727.65 422.11L733.97 400.54L740.3 404.69" stroke="#0000ff" stroke-width="1.6" fill="none" stroke-linejoin="round"/>
<path d="M473.54 454.19L475.67 454.19L475.67 456.33L477.8 456.33L477.8 458.46L475.67 458.46L475.67 460.59L473.54 460.59L473.54 458.46L471.4 458.46L471.4 456.33L473.54 456.33Z" fill="#0000ff" stroke="#0000ff" stroke-width="1.07" stroke-linejoin="miter"/><path d="M479.86 462.05L481.99 462.05L481.99 464.18L484.13 464.18L484.13 466.32L481.99 466.32L481.99 468.45L479.86 468.45L479.86 466.32L477.73 466.32L477.73 464.18L479.86 464.18Z" fill="#0000ff" stroke="#0000ff" stroke-width="1.07" stroke-linejoin="miter"/><path d="M486.19 461.16L488.32 461.16L488.32 463.3L490.45 463.3L490.45 465.43L488.32 465.43L488.32 467.56L486.19 467.56L486.19 465.43L484.05 465.43L484.05 463.3L486.19 463.3Z" fill="#0000ff" stroke="#0000ff" stroke-width="1.07" stroke-linejoin="miter"/><path d="M492.51 454.64L494.65 454.64L494.65 456.77L496.78 456.77L496.78 458.91L494.65 458.91L494.65 461.04L492.51 461.04L492.51 458.91L490.38 458.91L490.38 456.77L492.51 456.77Z" fill="#0000ff" stroke="#0000ff" stroke-width="1.07" stroke-linejoin="miter"/><path d="M498.84 455.38L500.97 455.38L500.97 457.51L503.11 457.51L503.11 459.65L500.97 459.65L500.97 461.78L498.84 461.78L498.84 459.65L496.71 459.65L496.71 457.51L498.84 457.51Z" fill="#0000ff" stroke="#0000ff" stroke-width="1.07" stroke-linejoin="miter"/><path d="M505.17 445.37L507.3 445.37L507.3 447.51L509.43 447.51L509.43 449.64L507.3 449.64L507.3 451.77L505.17 451.77L505.17 449.64L503.03 449.64L503.03 447.51L505.17 447.51Z" fill="#0000ff" stroke="#0000ff" stroke-width="1.07" stroke-linejoin="miter"/><path d="M511.49 455.23L513.63 455.23L513.63 457.37L515.76 457.37L515.76 459.5L513.63 459.5L513.63 461.63L511.49 461.63L511.49 459.5L509.36 459.5L509.36 457.37L511.49 457.37Z" fill="#0000ff" stroke="#0000ff" stroke-width="1.07" stroke-linejoin="miter"/><path d="M517.82 458.05L519.95 458.05L519.95 460.18L522.08 460.18L522.08 462.32L519.95 462.32L519.95 464.45L517.82 464.45L517.82 462.32L515.68 462.32L515.68 460.18L517.82 460.18Z" fill="#0000ff" stroke="#0000ff" stroke-width="1.07" stroke-linejoin="miter"/><path d="M524.14 441.67L526.28 441.67L526.28 443.8L528.41 443.8L528.41 445.93L526.28 445.93L526.28 448.07L524.14 448.07L524.14 445.93L522.01 445.93L522.01 443.8L524.14 443.8Z" fill="#0000ff" stroke="#0000ff" stroke-width="1.07" stroke-linejoin="miter"/><path d="M530.47 455.75L532.6 455.75L532.6 457.88L534.74 457.88L534.74 460.02L532.6 460.02L532.6 462.15L530.47 462.15L530.47 460.02L528.34 460.02L528.34 457.88L530.47 457.88Z" fill="#0000ff" stroke="#0000ff" stroke-width="1.07" stroke-linejoin="miter"/><path d="M536.8 474.28L538.93 474.28L538.93 476.42L541.06 476.42L541.06 478.55L538.93 478.55L538.93 480.68L536.8 480.68L536.8 478.55L534.66 478.55L534.66 476.42L536.8 476.42Z" fill="#0000ff" stroke="#0000ff" stroke-width="1.07" stroke-linejoin="miter"/><path d="M543.12 454.49L545.26 454.49L545.26 456.62L547.39 456.62L547.39 458.76L545.26 458.76L545.26 460.89L543.12 460.89L543.12 458.76L540.99 458.76L540.99 456.62L543.12 456.62Z" fill="#0000ff" stroke="#0000ff" stroke-width="1.07" stroke-linejoin="miter"/><path d="M549.45 453.6L551.58 453.6L551.58 455.73L553.72 455.73L553.72 457.87L551.58 457.87L551.58 460L549.45 460L549.45 457.87L547.32 457.87L547.32 455.73L549.45 455.73Z" fill="#0000ff" stroke="#0000ff" stroke-width="1.07" stroke-linejoin="miter"/><path d="M555.77 463.76L557.91 463.76L557.91 465.89L560.04 465.89L560.04 468.02L557.91 468.02L557.91 470.16L555.77 470.16L555.77 468.02L553.64 468.02L553.64 465.89L555.77 465.89Z" fill="#0000ff" stroke="#0000ff" stroke-width="1.07" stroke-linejoin="miter"/><path d="M562.1 454.94L564.23 454.94L564.23 457.07L566.37 457.07L566.37 459.2L564.23 459.2L564.23 461.34L562.1 461.34L562.1 459.2L559.97 459.2L559.97 457.07L562.1 457.07Z" fill="#0000ff" stroke="#0000ff" stroke-width="1.07" stroke-linejoin="miter"/><path d="M568.43 452.56L570.56 452.56L570.56 454.7L572.69 454.7L572.69 456.83L570.56 456.83L570.56 458.96L568.43 458.96L568.43 456.83L566.29 456.83L566.29 454.7L568.43 454.7Z" fill="#0000ff" stroke="#0000ff" stroke-width="1.07" stroke-linejoin="miter"/><path d="M574.75 462.72L576.89 462.72L576.89 464.85L579.02 464.85L579.02 466.99L576.89 466.99L576.89 469.12L574.75 469.12L574.75 466.99L572.62 466.99L572.62 464.85L574.75 464.85Z" fill="#0000ff" stroke="#0000ff" stroke-width="1.07" stroke-linejoin="miter"/><path d="M581.08 454.64L583.21 454.64L583.21 456.77L585.35 456.77L585.35 458.91L583.21 458.91L583.21 461.04L581.08 461.04L581.08 458.91L578.95 458.91L578.95 456.77L581.08 456.77Z" fill="#0000ff" stroke="#0000ff" stroke-width="1.07" stroke-linejoin="miter"/><path d="M587.41 455.53L589.54 455.53L589.54 457.66L591.67 457.66L591.67 459.79L589.54 459.79L589.54 461.93L587.41 461.93L587.41 459.79L585.27 459.79L585.27 457.66L587.41 457.66Z" fill="#0000ff" stroke="#0000ff" stroke-width="1.07" stroke-linejoin="miter"/><path d="M593.73 464.65L595.86 464.65L595.86 466.78L598 466.78L598 468.91L595.86 468.91L595.86 471.05L593.73 471.05L593.73 468.91L591.6 468.91L591.6 466.78L593.73 466.78Z" fill="#0000ff" stroke="#0000ff" stroke-width="1.07" stroke-linejoin="miter"/><path d="M600.06 453.6L602.19 453.6L602.19 455.73L604.32 455.73L604.32 457.87L602.19 457.87L602.19 460L600.06 460L600.06 457.87L597.92 457.87L597.92 455.73L600.06 455.73Z" fill="#0000ff" stroke="#0000ff" stroke-width="1.07" stroke-linejoin="miter"/><path d="M606.38 463.76L608.52 463.76L608.52 465.89L610.65 465.89L610.65 468.02L608.52 468.02L608.52 470.16L606.38 470.16L606.38 468.02L604.25 468.02L604.25 465.89L606.38 465.89Z" fill="#0000ff" stroke="#0000ff" stroke-width="1.07" stroke-linejoin="miter"/><path d="M612.71 469.17L614.84 469.17L614.84 471.3L616.98 471.3L616.98 473.43L614.84 473.43L614.84 475.57L612.71 475.57L612.71 473.43L610.58 473.43L610.58 471.3L612.71 471.3Z" fill="#0000ff" stroke="#0000ff" stroke-width="1.07" stroke-linejoin="miter"/><path d="M619.04 450.04L621.17 450.04L621.17 452.18L623.3 452.18L623.3 454.31L621.17 454.31L621.17 456.44L619.04 456.44L619.04 454.31L616.9 454.31L616.9 452.18L619.04 452.18Z" fill="#0000ff" stroke="#0000ff" stroke-width="1.07" stroke-linejoin="miter"/><path d="M625.36 445.52L627.49 445.52L627.49 447.65L629.63 447.65L629.63 449.79L627.49 449.79L627.49 451.92L625.36 451.92L625.36 449.79L623.23 449.79L623.23 447.65L625.36 447.65Z" fill="#0000ff" stroke="#0000ff" stroke-width="1.07" stroke-linejoin="miter"/><path d="M631.69 452.86L633.82 452.86L633.82 454.99L635.95 454.99L635.95 457.13L633.82 457.13L633.82 459.26L631.69 459.26L631.69 457.13L629.55 457.13L629.55 454.99L631.69 454.99Z" fill="#0000ff" stroke="#0000ff" stroke-width="1.07" stroke-linejoin="miter"/><path d="M638.01 433.14L640.15 433.14L640.15 435.28L642.28 435.28L642.28 437.41L640.15 437.41L640.15 439.54L638.01 439.54L638.01 437.41L635.88 437.41L635.88 435.28L638.01 435.28Z" fill="#0000ff" stroke="#0000ff" stroke-width="1.07" stroke-linejoin="miter"/><path d="M644.34 443.74L646.47 443.74L646.47 445.88L648.61 445.88L648.61 448.01L646.47 448.01L646.47 450.14L644.34 450.14L644.34 448.01L642.21 448.01L642.21 445.88L644.34 445.88Z" fill="#0000ff" stroke="#0000ff" stroke-width="1.07" stroke-linejoin="miter"/><path d="M650.67 455.38L652.8 455.38L652.8 457.51L654.93 457.51L654.93 459.65L652.8 459.65L652.8 461.78L650.67 461.78L650.67 459.65L648.53 459.65L648.53 457.51L650.67 457.51Z" fill="#0000ff" stroke="#0000ff" stroke-width="1.07" stroke-linejoin="miter"/><path d="M656.99 440.48L659.13 440.48L659.13 442.61L661.26 442.61L661.26 444.75L659.13 444.75L659.13 446.88L656.99 446.88L656.99 444.75L654.86 444.75L654.86 442.61L656.99 442.61Z" fill="#0000ff" stroke="#0000ff" stroke-width="1.07" stroke-linejoin="miter"/><path d="M663.32 442.04L665.45 442.04L665.45 444.17L667.58 444.17L667.58 446.3L665.45 446.3L665.45 448.44L663.32 448.44L663.32 446.3L661.18 446.3L661.18 444.17L663.32 444.17Z" fill="#0000ff" stroke="#0000ff" stroke-width="1.07" stroke-linejoin="miter"/><path d="M669.64 442.85L671.78 442.85L671.78 444.99L673.91 444.99L673.91 447.12L671.78 447.12L671.78 449.25L669.64 449.25L669.64 447.12L667.51 447.12L667.51 444.99L669.64 444.99Z" fill="#0000ff" stroke="#0000ff" stroke-width="1.07" stroke-linejoin="miter"/><path d="M675.97 427.66L678.1 427.66L678.1 429.79L680.24 429.79L680.24 431.92L678.1 431.92L678.1 434.06L675.97 434.06L675.97 431.92L673.84 431.92L673.84 429.79L675.97 429.79Z" fill="#0000ff" stroke="#0000ff" stroke-width="1.07" stroke-linejoin="miter"/><path d="M682.3 415.72L684.43 415.72L684.43 417.86L686.56 417.86L686.56 419.99L684.43 419.99L684.43 422.12L682.3 422.12L682.3 419.99L680.16 419.99L680.16 417.86L682.3 417.86Z" fill="#0000ff" stroke="#0000ff" stroke-width="1.07" stroke-linejoin="miter"/><path d="M688.62 417.87L690.76 417.87L690.76 420.01L692.89 420.01L692.89 422.14L690.76 422.14L690.76 424.27L688.62 424.27L688.62 422.14L686.49 422.14L686.49 420.01L688.62 420.01Z" fill="#0000ff" stroke="#0000ff" stroke-width="1.07" stroke-linejoin="miter"/><path d="M694.95 414.09L697.08 414.09L697.08 416.23L699.22 416.23L699.22 418.36L697.08 418.36L697.08 420.49L694.95 420.49L694.95 418.36L692.82 418.36L692.82 416.23L694.95 416.23Z" fill="#0000ff" stroke="#0000ff" stroke-width="1.07" stroke-linejoin="miter"/><path d="M701.27 410.53L703.41 410.53L703.41 412.67L705.54 412.67L705.54 414.8L703.41 414.8L703.41 416.93L701.27 416.93L701.27 414.8L699.14 414.8L699.14 412.67L701.27 412.67Z" fill="#0000ff" stroke="#0000ff" stroke-width="1.07" stroke-linejoin="miter"/><path d="M707.6 412.68L709.73 412.68L709.73 414.82L711.87 414.82L711.87 416.95L709.73 416.95L709.73 419.08L707.6 419.08L707.6 416.95L705.47 416.95L705.47 414.82L707.6 414.82Z" fill="#0000ff" stroke="#0000ff" stroke-width="1.07" stroke-linejoin="miter"/><path d="M713.93 397.19L716.06 397.19L716.06 399.33L718.19 399.33L718.19 401.46L716.06 401.46L716.06 403.59L713.93 403.59L713.93 401.46L711.79 401.46L711.79 399.33L713.93 399.33Z" fill="#0000ff" stroke="#0000ff" stroke-width="1.07" stroke-linejoin="miter"/><path d="M720.25 410.76L722.39 410.76L722.39 412.89L724.52 412.89L724.52 415.02L722.39 415.02L722.39 417.16L720.25 417.16L720.25 415.02L718.12 415.02L718.12 412.89L720.25 412.89Z" fill="#0000ff" stroke="#0000ff" stroke-width="1.07" stroke-linejoin="miter"/><path d="M726.58 418.91L728.71 418.91L728.71 421.04L730.85 421.04L730.85 423.18L728.71 423.18L728.71 425.31L726.58 425.31L726.58 423.18L724.45 423.18L724.45 421.04L726.58 421.04Z" fill="#0000ff" stroke="#0000ff" stroke-width="1.07" stroke-linejoin="miter"/><path d="M732.91 397.34L735.04 397.34L735.04 399.47L737.17 399.47L737.17 401.61L735.04 401.61L735.04 403.74L732.91 403.74L732.91 401.61L730.77 401.61L730.77 399.47L732.91 399.47Z" fill="#0000ff" stroke="#0000ff" stroke-width="1.07" stroke-linejoin="miter"/><path d="M739.23 401.49L741.36 401.49L741.36 403.62L743.5 403.62L743.5 405.76L741.36 405.76L741.36 407.89L739.23 407.89L739.23 405.76L737.1 405.76L737.1 403.62L739.23 403.62Z" fill="#0000ff" stroke="#0000ff" stroke-width="1.07" stroke-linejoin="miter"/>
<path d="M461.95 442.12L468.28 413.88L474.6 403.51L480.93 416.48L487.25 413.88L493.58 418.4L499.91 433.97L506.23 421L512.56 418.4L518.88 429.37L525.21 420.33L531.54 422.26L537.86 431.67L544.19 425.08L550.52 426.19L556.84 438.49L563.17 429L569.49 429.82L575.82 434.56L582.15 422.93L588.47 418.63L594.8 429.37L601.12 418.4L607.45 421.67L613.78 428.11L620.1 402.84L626.43 407.36L632.75 424.7L639.08 410.99L645.41 417.07L651.73 426.19L658.06 406.69L664.38 411.21L670.71 409.66L677.04 397.43L683.36 385.12L689.69 386.53L696.02 384.08L702.34 380.45L708.67 396.61L714.99 389.79L721.32 378.15L727.65 383.49L733.97 380.38L740.3 376.08L746.62 405.28L752.95 422.63" stroke="#008000" stroke-width="1.6" fill="none" stroke-linejoin="round"/>
<path d="M461.95 439.12L464.96 445.13L458.94 445.13Z" fill="#008000" stroke="#008000" stroke-width="1.07" stroke-linejoin="miter"/><path d="M468.28 410.87L471.28 416.89L465.27 416.89Z" fill="#008000" stroke="#008000" stroke-width="1.07" stroke-linejoin="miter"/><path d="M474.6 400.5L477.61 406.51L471.59 406.51Z" fill="#008000" stroke="#008000" stroke-width="1.07" stroke-linejoin="miter"/><path d="M480.93 413.47L483.94 419.48L477.92 419.48Z" fill="#008000" stroke="#008000" stroke-width="1.07" stroke-linejoin="miter"/><path d="M487.25 410.87L490.26 416.89L484.25 416.89Z" fill="#008000" stroke="#008000" stroke-width="1.07" stroke-linejoin="miter"/><path d="M493.58 415.4L496.59 421.41L490.57 421.41Z" fill="#008000" stroke="#008000" stroke-width="1.07" stroke-linejoin="miter"/><path d="M499.91 430.96L502.91 436.98L496.9 436.98Z" fill="#008000" stroke="#008000" stroke-width="1.07" stroke-linejoin="miter"/><path d="M506.23 417.99L509.24 424.01L503.22 424.01Z" fill="#008000" stroke="#008000" stroke-width="1.07" stroke-linejoin="miter"/><path d="M512.56 415.4L515.57 421.41L509.55 421.41Z" fill="#008000" stroke="#008000" stroke-width="1.07" stroke-linejoin="miter"/><path d="M518.88 426.37L521.89 432.38L515.88 432.38Z" fill="#008000" stroke="#008000" stroke-width="1.07" stroke-linejoin="miter"/><path d="M525.21 417.32L528.22 423.34L522.2 423.34Z" fill="#008000" stroke="#008000" stroke-width="1.07" stroke-linejoin="miter"/><path d="M531.54 419.25L534.54 425.27L528.53 425.27Z" fill="#008000" stroke="#008000" stroke-width="1.07" stroke-linejoin="miter"/><path d="M537.86 428.66L540.87 434.68L534.86 434.68Z" fill="#008000" stroke="#008000" stroke-width="1.07" stroke-linejoin="miter"/><path d="M544.19 422.07L547.2 428.08L541.18 428.08Z" fill="#008000" stroke="#008000" stroke-width="1.07" stroke-linejoin="miter"/><path d="M550.52 423.18L553.52 429.2L547.51 429.2Z" fill="#008000" stroke="#008000" stroke-width="1.07" stroke-linejoin="miter"/><path d="M556.84 435.48L559.85 441.5L553.83 441.5Z" fill="#008000" stroke="#008000" stroke-width="1.07" stroke-linejoin="miter"/><path d="M563.17 426L566.18 432.01L560.16 432.01Z" fill="#008000" stroke="#008000" stroke-width="1.07" stroke-linejoin="miter"/><path d="M569.49 426.81L572.5 432.83L566.49 432.83Z" fill="#008000" stroke="#008000" stroke-width="1.07" stroke-linejoin="miter"/><path d="M575.82 431.56L578.83 437.57L572.81 437.57Z" fill="#008000" stroke="#008000" stroke-width="1.07" stroke-linejoin="miter"/><path d="M582.15 419.92L585.15 425.93L579.14 425.93Z" fill="#008000" stroke="#008000" stroke-width="1.07" stroke-linejoin="miter"/><path d="M588.47 415.62L591.48 421.63L585.46 421.63Z" fill="#008000" stroke="#008000" stroke-width="1.07" stroke-linejoin="miter"/><path d="M594.8 426.37L597.81 432.38L591.79 432.38Z" fill="#008000" stroke="#008000" stroke-width="1.07" stroke-linejoin="miter"/><path d="M601.12 415.4L604.13 421.41L598.12 421.41Z" fill="#008000" stroke="#008000" stroke-width="1.07" stroke-linejoin="miter"/><path d="M607.45 418.66L610.46 424.67L604.44 424.67Z" fill="#008000" stroke="#008000" stroke-width="1.07" stroke-linejoin="miter"/><path d="M613.78 425.11L616.78 431.12L610.77 431.12Z" fill="#008000" stroke="#008000" stroke-width="1.07" stroke-linejoin="miter"/><path d="M620.1 399.83L623.11 405.85L617.09 405.85Z" fill="#008000" stroke="#008000" stroke-width="1.07" stroke-linejoin="miter"/><path d="M626.43 404.35L629.44 410.37L623.42 410.37Z" fill="#008000" stroke="#008000" stroke-width="1.07" stroke-linejoin="miter"/><path d="M632.75 421.7L635.76 427.71L629.75 427.71Z" fill="#008000" stroke="#008000" stroke-width="1.07" stroke-linejoin="miter"/><path d="M639.08 407.98L642.09 414L636.07 414Z" fill="#008000" stroke="#008000" stroke-width="1.07" stroke-linejoin="miter"/><path d="M645.41 414.06L648.41 420.08L642.4 420.08Z" fill="#008000" stroke="#008000" stroke-width="1.07" stroke-linejoin="miter"/><path d="M651.73 423.18L654.74 429.2L648.72 429.2Z" fill="#008000" stroke="#008000" stroke-width="1.07" stroke-linejoin="miter"/><path d="M658.06 403.68L661.07 409.7L655.05 409.7Z" fill="#008000" stroke="#008000" stroke-width="1.07" stroke-linejoin="miter"/><path d="M664.38 408.21L667.39 414.22L661.38 414.22Z" fill="#008000" stroke="#008000" stroke-width="1.07" stroke-linejoin="miter"/><path d="M670.71 406.65L673.72 412.67L667.7 412.67Z" fill="#008000" stroke="#008000" stroke-width="1.07" stroke-linejoin="miter"/><path d="M677.04 394.42L680.04 400.43L674.03 400.43Z" fill="#008000" stroke="#008000" stroke-width="1.07" stroke-linejoin="miter"/><path d="M683.36 382.11L686.37 388.13L680.36 388.13Z" fill="#008000" stroke="#008000" stroke-width="1.07" stroke-linejoin="miter"/><path d="M689.69 383.52L692.7 389.54L686.68 389.54Z" fill="#008000" stroke="#008000" stroke-width="1.07" stroke-linejoin="miter"/><path d="M696.02 381.08L699.02 387.09L693.01 387.09Z" fill="#008000" stroke="#008000" stroke-width="1.07" stroke-linejoin="miter"/><path d="M702.34 377.44L705.35 383.46L699.33 383.46Z" fill="#008000" stroke="#008000" stroke-width="1.07" stroke-linejoin="miter"/><path d="M708.67 393.6L711.68 399.62L705.66 399.62Z" fill="#008000" stroke="#008000" stroke-width="1.07" stroke-linejoin="miter"/><path d="M714.99 386.78L718 392.8L711.99 392.8Z" fill="#008000" stroke="#008000" stroke-width="1.07" stroke-linejoin="miter"/><path d="M721.32 375.15L724.33 381.16L718.31 381.16Z" fill="#008000" stroke="#008000" stroke-width="1.07" stroke-linejoin="miter"/><path d="M727.65 380.48L730.65 386.5L724.64 386.5Z" fill="#008000" stroke="#008000" stroke-width="1.07" stroke-linejoin="miter"/><path d="M733.97 377.37L736.98 383.39L730.96 383.39Z" fill="#008000" stroke="#008000" stroke-width="1.07" stroke-linejoin="miter"/><path d="M740.3 373.07L743.31 379.09L737.29 379.09Z" fill="#008000" stroke="#008000" stroke-width="1.07" stroke-linejoin="miter"/><path d="M746.62 402.28L749.63 408.29L743.62 408.29Z" fill="#008000" stroke="#008000" stroke-width="1.07" stroke-linejoin="miter"/><path d="M752.95 419.62L755.96 425.64L749.94 425.64Z" fill="#008000" stroke="#008000" stroke-width="1.07" stroke-linejoin="miter"/>
<path d="M461.95 419.66L468.28 382.23L474.6 371.26L480.93 388.38L487.25 389.64L493.58 391.35L499.91 401.8L506.23 387.72L512.56 390.01L518.88 400.91L525.21 385.79L531.54 382.23L537.86 398.98L544.19 392.76L550.52 397.43L556.84 408.1L563.17 397.06L569.49 394.17L575.82 404.91L582.15 387.72L588.47 386.68L594.8 402.47L601.12 392.61L607.45 397.06L613.78 396.76L620.1 373.71L626.43 372.3L632.75 383.57L639.08 373.56L645.41 382.6L651.73 391.94L658.06 377.93L664.38 371.85L670.71 380.97L677.04 362.44L683.36 356.95L689.69 356.07L696.02 347.02L702.34 344.43L708.67 360.59L714.99 352.43L721.32 344.8L727.65 358.29L733.97 349.54L740.3 346.21L746.62 375.86L752.95 400.98" stroke="#ff0000" stroke-width="1.6" fill="none" stroke-linejoin="round"/>
<circle cx="461.95" cy="419.66" r="3.74" fill="#ff0000"/><circle cx="468.28" cy="382.23" r="3.74" fill="#ff0000"/><circle cx="474.6" cy="371.26" r="3.74" fill="#ff0000"/><circle cx="480.93" cy="388.38" r="3.74" fill="#ff0000"/><circle cx="487.25" cy="389.64" r="3.74" fill="#ff0000"/><circle cx="493.58" cy="391.35" r="3.74" fill="#ff0000"/><circle cx="499.91" cy="401.8" r="3.74" fill="#ff0000"/><circle cx="506.23" cy="387.72" r="3.74" fill="#ff0000"/><circle cx="512.56" cy="390.01" r="3.74" fill="#ff0000"/><circle cx="518.88" cy="400.91" r="3.74" fill="#ff0000"/><circle cx="525.21" cy="385.79" r="3.74" fill="#ff0000"/><circle cx="531.54" cy="382.23" r="3.74" fill="#ff0000"/><circle cx="537.86" cy="398.98" r="3.74" fill="#ff0000"/><circle cx="544.19" cy="392.76" r="3.74" fill="#ff0000"/><circle cx="550.52" cy="397.43" r="3.74" fill="#ff0000"/><circle cx="556.84" cy="408.1" r="3.74" fill="#ff0000"/><circle cx="563.17" cy="397.06" r="3.74" fill="#ff0000"/><circle cx="569.49" cy="394.17" r="3.74" fill="#ff0000"/><circle cx="575.82" cy="404.91" r="3.74" fill="#ff0000"/><circle cx="582.15" cy="387.72" r="3.74" fill="#ff0000"/><circle cx="588.47" cy="386.68" r="3.74" fill="#ff0000"/><circle cx="594.8" cy="402.47" r="3.74" fill="#ff0000"/><circle cx="601.12" cy="392.61" r="3.74" fill="#ff0000"/><circle cx="607.45" cy="397.06" r="3.74" fill="#ff0000"/><circle cx="613.78" cy="396.76" r="3.74" fill="#ff0000"/><circle cx="620.1" cy="373.71" r="3.74" fill="#ff0000"/><circle cx="626.43" cy="372.3" r="3.74" fill="#ff0000"/><circle cx="632.75" cy="383.57" r="3.74" fill="#ff0000"/><circle cx="639.08" cy="373.56" r="3.74" fill="#ff0000"/><circle cx="645.41" cy="382.6" r="3.74" fill="#ff0000"/><circle cx="651.73" cy="391.94" r="3.74" fill="#ff0000"/><circle cx="658.06" cy="377.93" r="3.74" fill="#ff0000"/><circle cx="664.38" cy="371.85" r="3.74" fill="#ff0000"/><circle cx="670.71" cy="380.97" r="3.74" fill="#ff0000"/><circle cx="677.04" cy="362.44" r="3.74" fill="#ff0000"/><circle cx="683.36" cy="356.95" r="3.74" fill="#ff0000"/><circle cx="689.69" cy="356.07" r="3.74" fill="#ff0000"/><circle cx="696.02" cy="347.02" r="3.74" fill="#ff0000"/><circle cx="702.34" cy="344.43" r="3.74" fill="#ff0000"/><circle cx="708.67" cy="360.59" r="3.74" fill="#ff0000"/><circle cx="714.99" cy="352.43" r="3.74" fill="#ff0000"/><circle cx="721.32" cy="344.8" r="3.74" fill="#ff0000"/><circle cx="727.65" cy="358.29" r="3.74" fill="#ff0000"/><circle cx="733.97" cy="349.54" r="3.74" fill="#ff0000"/><circle cx="740.3" cy="346.21" r="3.74" fill="#ff0000"/><circle cx="746.62" cy="375.86" r="3.74" fill="#ff0000"/><circle cx="752.95" cy="400.98" r="3.74" fill="#ff0000"/>
</g>
<path d="M461.95 482.3v3.6M487.25 482.3v3.6M518.88 482.3v3.6M550.52 482.3v3.6M582.15 482.3v3.6M613.78 482.3v3.6M645.41 482.3v3.6M677.04 482.3v3.6M708.67 482.3v3.6M752.95 482.3v3.6M447.4 482.3h-3.6M447.4 452.65h-3.6M447.4 423h-3.6M447.4 393.35h-3.6M447.4 363.7h-3.6M447.4 334.05h-3.6M447.4 304.4h-3.6M447.4 274.75h-3.6" stroke="#000" stroke-width="0.8" fill="none"/>
<rect x="447.4" y="274.75" width="320.1" height="207.55" fill="none" stroke="#000" stroke-width="0.85"/>
<rect x="674.3" y="279.45" width="88.3" height="58.9" rx="2" ry="2" fill="#fff" fill-opacity="0.8" stroke="#cccccc" stroke-width="1"/>
<path d="M677.2 287.35H697.7" stroke="#000000" stroke-width="1.6"/>
<path d="M687.45 282.07L692.73 287.35L687.45 292.63L682.17 287.35Z" fill="#000000"/>
<path d="M677.2 301.42H697.7" stroke="#0000ff" stroke-width="1.6"/>
<path d="M686.38 298.22L688.52 298.22L688.52 300.35L690.65 300.35L690.65 302.49L688.52 302.49L688.52 304.62L686.38 304.62L686.38 302.49L684.25 302.49L684.25 300.35L686.38 300.35Z" fill="#0000ff" stroke="#0000ff" stroke-width="1.07" stroke-linejoin="miter"/>
<path d="M677.2 315.49H697.7" stroke="#008000" stroke-width="1.6"/>
<path d="M687.45 312.48L690.46 318.5L684.44 318.5Z" fill="#008000" stroke="#008000" stroke-width="1.07" stroke-linejoin="miter"/>
<path d="M677.2 329.56H697.7" stroke="#ff0000" stroke-width="1.6"/>
<circle cx="687.45" cy="329.56" r="3.74" fill="#ff0000"/>
</svg>
<section>
<div class="lg" style="left:305.55px;top:18px">TDAN</div>
<div class="lg" style="left:305.55px;top:32.07px">FRVSR</div>
<div class="lg" style="left:305.55px;top:46.14px">EDSR-VSR</div>
<div class="lg" style="left:305.55px;top:60.21px">SwinIR-VSR</div>
<div class="xt" style="left:42.88px;top:225.15px">1</div>
<div class="xt" style="left:71.94px;top:225.15px">5</div>
<div class="xt" style="left:108.26px;top:225.15px">10</div>
<div class="xt" style="left:144.59px;top:225.15px">15</div>
<div class="xt" style="left:180.91px;top:225.15px">20</div>
<div class="xt" style="left:217.23px;top:225.15px">25</div>
<div class="xt" style="left:253.56px;top:225.15px">30</div>
<div class="xt" style="left:289.88px;top:225.15px">35</div>
<div class="xt" style="left:333.47px;top:225.15px">41</div>
<div class="yt" style="left:0.85px;top:213.55px">22.6</div>
<div class="yt" style="left:0.85px;top:190.48px">22.8</div>
<div class="yt" style="left:0.85px;top:167.41px">23.0</div>
<div class="yt" style="left:0.85px;top:144.33px">23.2</div>
<div class="yt" style="left:0.85px;top:121.26px">23.4</div>
<div class="yt" style="left:0.85px;top:98.19px">23.6</div>
<div class="yt" style="left:0.85px;top:75.12px">23.8</div>
<div class="yt" style="left:0.85px;top:52.04px">24.0</div>
<div class="yt" style="left:0.85px;top:28.97px">24.2</div>
<div class="yt" style="left:0.85px;top:5.9px">24.4</div>
<div class="xl" style="left:108.18px;top:238.15px">Frame Index in Calendar</div>
<div class="yl" style="left:-38.85px;top:109.73px">PSNR (dB)</div>
<div class="lg" style="left:704.6px;top:18px">TDAN</div>
<div class="lg" style="left:704.6px;top:32.07px">FRVSR</div>
<div class="lg" style="left:704.6px;top:46.14px">EDSR-VSR</div>
<div class="lg" style="left:704.6px;top:60.21px">SwinIR-VSR</div>
<div class="xt" style="left:441.95px;top:225.15px">1</div>
<div class="xt" style="left:477.22px;top:225.15px">5</div>
<div class="xt" style="left:521.31px;top:225.15px">10</div>
<div class="xt" style="left:565.4px;top:225.15px">15</div>
<div class="xt" style="left:609.5px;top:225.15px">20</div>
<div class="xt" style="left:653.59px;top:225.15px">25</div>
<div class="xt" style="left:697.68px;top:225.15px">30</div>
<div class="xt" style="left:732.95px;top:225.15px">34</div>
<div class="yt" style="left:399.9px;top:213.55px">26.0</div>
<div class="yt" style="left:399.9px;top:194.67px">26.4</div>
<div class="yt" style="left:399.9px;top:175.8px">26.8</div>
<div class="yt" style="left:399.9px;top:156.92px">27.2</div>
<div class="yt" style="left:399.9px;top:138.04px">27.6</div>
<div class="yt" style="left:399.9px;top:119.16px">28.0</div>
<div class="yt" style="left:399.9px;top:100.29px">28.4</div>
<div class="yt" style="left:399.9px;top:81.41px">28.8</div>
<div class="yt" style="left:399.9px;top:62.53px">29.2</div>
<div class="yt" style="left:399.9px;top:43.65px">29.6</div>
<div class="yt" style="left:399.9px;top:24.78px">30.0</div>
<div class="yt" style="left:399.9px;top:5.9px">30.4</div>
<div class="xl" style="left:507.45px;top:238.15px">Frame Index in City</div>
<div class="yl" style="left:360.2px;top:109.73px">PSNR (dB)</div>
<div class="lg" style="left:305.55px;top:279.85px">TDAN</div>
<div class="lg" style="left:305.55px;top:293.92px">FRVSR</div>
<div class="lg" style="left:305.55px;top:307.99px">EDSR-VSR</div>
<div class="lg" style="left:305.55px;top:322.06px">SwinIR-VSR</div>
<div class="xt" style="left:42.88px;top:486.9px">1</div>
<div class="xt" style="left:67.1px;top:486.9px">5</div>
<div class="xt" style="left:97.37px;top:486.9px">10</div>
<div class="xt" style="left:127.64px;top:486.9px">15</div>
<div class="xt" style="left:157.91px;top:486.9px">20</div>
<div class="xt" style="left:188.17px;top:486.9px">25</div>
<div class="xt" style="left:218.44px;top:486.9px">30</div>
<div class="xt" style="left:248.71px;top:486.9px">35</div>
<div class="xt" style="left:278.98px;top:486.9px">40</div>
<div class="xt" style="left:321.36px;top:486.9px">47</div>
<div class="yt" style="left:0.85px;top:475.3px">25.2</div>
<div class="yt" style="left:0.85px;top:452.24px">25.4</div>
<div class="yt" style="left:0.85px;top:429.18px">25.6</div>
<div class="yt" style="left:0.85px;top:406.12px">25.8</div>
<div class="yt" style="left:0.85px;top:383.06px">26.0</div>
<div class="yt" style="left:0.85px;top:359.99px">26.2</div>
<div class="yt" style="left:0.85px;top:336.93px">26.4</div>
<div class="yt" style="left:0.85px;top:313.87px">26.6</div>
<div class="yt" style="left:0.85px;top:290.81px">26.8</div>
<div class="yt" style="left:0.85px;top:267.75px">27.0</div>
<div class="xl" style="left:108.18px;top:499.9px">Frame Index in Foliage</div>
<div class="yl" style="left:-38.85px;top:371.52px">PSNR (dB)</div>
<div class="lg" style="left:704.6px;top:279.85px">TDAN</div>
<div class="lg" style="left:704.6px;top:293.92px">FRVSR</div>
<div class="lg" style="left:704.6px;top:307.99px">EDSR-VSR</div>
<div class="lg" style="left:704.6px;top:322.06px">SwinIR-VSR</div>
<div class="xt" style="left:441.95px;top:486.9px">1</div>
<div class="xt" style="left:467.25px;top:486.9px">5</div>
<div class="xt" style="left:498.88px;top:486.9px">10</div>
<div class="xt" style="left:530.52px;top:486.9px">15</div>
<div class="xt" style="left:562.15px;top:486.9px">20</div>
<div class="xt" style="left:593.78px;top:486.9px">25</div>
<div class="xt" style="left:625.41px;top:486.9px">30</div>
<div class="xt" style="left:657.04px;top:486.9px">35</div>
<div class="xt" style="left:688.67px;top:486.9px">40</div>
<div class="xt" style="left:732.95px;top:486.9px">47</div>
<div class="yt" style="left:399.9px;top:475.3px">28.9</div>
<div class="yt" style="left:399.9px;top:445.65px">29.3</div>
<div class="yt" style="left:399.9px;top:416px">29.7</div>
<div class="yt" style="left:399.9px;top:386.35px">30.1</div>
<div class="yt" style="left:399.9px;top:356.7px">30.5</div>
<div class="yt" style="left:399.9px;top:327.05px">30.9</div>
<div class="yt" style="left:399.9px;top:297.4px">31.3</div>
<div class="yt" style="left:399.9px;top:267.75px">31.7</div>
<div class="xl" style="left:507.45px;top:499.9px">Frame Index in Walk</div>
<div class="yl" style="left:360.2px;top:371.52px">PSNR (dB)</div>
</section>
</body></html>
